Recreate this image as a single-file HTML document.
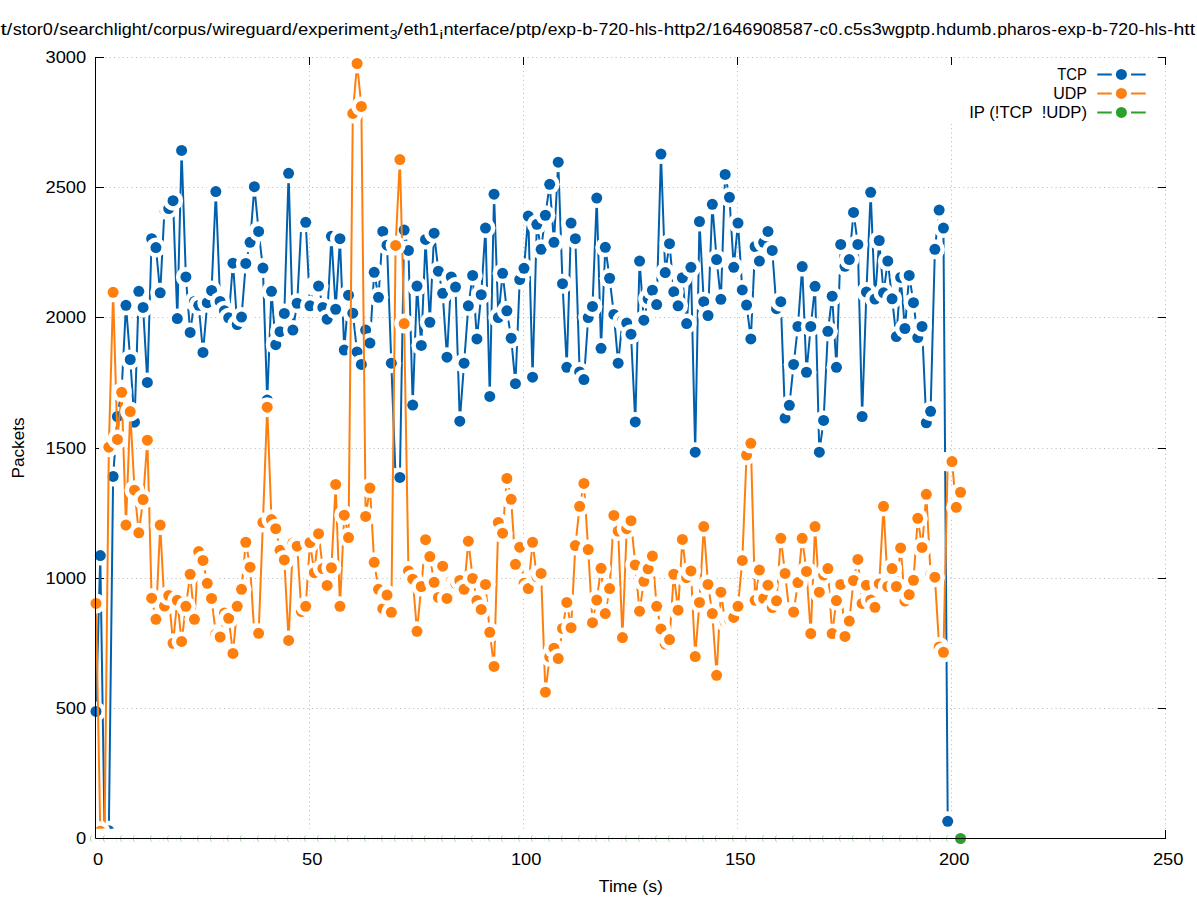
<!DOCTYPE html>
<html><head><meta charset="utf-8"><title>plot</title>
<style>html,body{margin:0;padding:0;background:#fff;overflow:hidden}svg{display:block}text{font-family:"Liberation Sans",sans-serif;fill:#000}</style>
</head><body>
<svg width="1197" height="900" viewBox="0 0 1197 900">
<rect x="0" y="0" width="1197" height="900" fill="#fff"/>
<g stroke="#b6b6b6" stroke-width="1" stroke-dasharray="1 3.4" fill="none">
<path d="M96.4 708.5H1166.0"/>
<path d="M96.4 578.5H1166.0"/>
<path d="M96.4 448.5H1166.0"/>
<path d="M96.4 317.5H1166.0"/>
<path d="M96.4 187.5H1166.0"/>
<path d="M96.4 57.5H1166.0"/>
<path d="M309.5 837.6V57.0"/>
<path d="M523.5 837.6V57.0"/>
<path d="M737.5 837.6V57.0"/>
<path d="M951.5 837.6V57.0"/>
<path d="M1165.5 837.6V57.0"/>
</g>
<rect x="949" y="65.5" width="208.5" height="58.5" fill="#fff"/>
<g stroke="#000" stroke-width="1" fill="none">
<path d="M95.0 838.5h9"/>
<path d="M1166.0 838.5h-8"/>
<path d="M95.0 708.5h9"/>
<path d="M1166.0 708.5h-8"/>
<path d="M95.0 578.5h9"/>
<path d="M1166.0 578.5h-8"/>
<path d="M95.0 448.5h9"/>
<path d="M1166.0 448.5h-8"/>
<path d="M95.0 317.5h9"/>
<path d="M1166.0 317.5h-8"/>
<path d="M95.0 187.5h9"/>
<path d="M1166.0 187.5h-8"/>
<path d="M95.0 57.5h9"/>
<path d="M1166.0 57.5h-8"/>
<path d="M95.5 839.0v-9"/>
<path d="M95.5 57.0v8"/>
<path d="M309.5 839.0v-9"/>
<path d="M309.5 57.0v8"/>
<path d="M523.5 839.0v-9"/>
<path d="M523.5 57.0v8"/>
<path d="M737.5 839.0v-9"/>
<path d="M737.5 57.0v8"/>
<path d="M951.5 839.0v-9"/>
<path d="M951.5 57.0v8"/>
<path d="M1165.5 839.0v-9"/>
<path d="M1165.5 57.0v8"/>
</g>
<text x="1087.0" y="80.0" font-size="16" text-anchor="end" textLength="29.7" lengthAdjust="spacingAndGlyphs" style="white-space:pre">TCP</text>
<path d="M1097.3 74.4H1145.7" stroke="#0060ad" stroke-width="2.0" fill="none"/>
<circle cx="1121.4" cy="74.4" r="9.7" fill="#fff"/><circle cx="1121.4" cy="74.4" r="5.5" fill="#0060ad"/>
<g>
<polyline fill="none" stroke="#0060ad" stroke-width="2.0" stroke-linejoin="round" stroke-linecap="butt" points="96.00,711.46 100.28,555.52 104.56,830.69 108.84,830.69 113.12,476.38 117.40,416.50 121.68,389.43 125.96,305.34 130.24,359.49 134.52,422.23 138.80,291.28 143.08,307.42 147.36,382.40 151.64,238.69 155.92,247.54 160.20,292.84 164.48,209.53 168.76,208.49 173.04,200.68 177.32,318.61 181.60,150.44 185.88,276.96 190.16,332.41 194.44,301.43 198.72,305.34 203.00,352.46 207.28,302.73 211.56,290.50 215.84,191.57 220.12,301.43 224.40,310.80 228.68,317.83 232.96,263.16 237.24,324.60 241.52,317.05 245.80,263.42 250.08,242.34 254.36,186.63 258.64,231.40 262.92,268.11 267.20,400.10 271.48,291.28 275.76,344.65 280.04,331.63 284.32,313.41 288.60,173.35 292.88,330.07 297.16,303.25 301.44,222.29 305.72,222.29 310.00,305.86 314.28,286.07 318.56,286.07 322.84,307.42 327.12,319.13 331.40,236.35 335.68,309.24 339.96,238.69 344.24,350.11 348.52,295.18 352.80,313.15 357.08,351.94 361.36,364.43 365.64,330.07 369.92,343.09 374.20,272.27 378.48,297.27 382.76,231.40 387.04,245.20 391.32,363.13 395.60,477.94 399.88,477.42 404.16,230.10 408.44,250.41 412.72,405.05 417.00,286.07 421.28,345.43 425.56,239.47 429.84,322.26 434.12,233.23 438.40,271.23 442.68,293.36 446.96,357.14 451.24,276.96 455.52,287.11 459.80,421.19 464.08,363.13 468.36,305.86 472.64,275.40 476.92,338.92 481.20,294.66 485.48,228.02 489.76,396.45 494.04,194.17 498.32,317.57 502.60,273.32 506.88,310.80 511.16,338.14 515.44,383.70 519.72,279.56 524.00,268.37 528.28,216.04 532.56,377.19 536.84,224.37 541.12,249.37 545.40,215.26 549.68,184.28 553.96,242.34 558.24,162.15 562.52,283.73 566.80,367.30 571.08,223.07 575.36,238.69 579.64,371.98 583.92,379.53 588.20,317.57 592.48,306.38 596.76,198.08 601.04,348.29 605.32,247.28 609.60,278.26 613.88,314.45 618.16,363.13 622.44,320.70 626.72,323.04 631.00,334.23 635.28,421.97 639.56,261.08 643.84,320.18 648.12,298.83 652.40,290.24 656.68,304.56 660.96,154.08 665.24,272.54 669.52,243.64 673.80,291.80 678.08,305.86 682.36,277.74 686.64,323.56 690.92,267.33 695.20,452.17 699.48,221.51 703.76,301.69 708.04,315.49 712.32,204.33 716.60,259.52 720.88,299.35 725.16,174.39 729.44,197.30 733.72,267.33 738.00,223.07 742.28,289.98 746.56,305.08 750.84,338.92 755.12,246.50 759.40,261.08 763.68,242.34 767.96,231.40 772.24,250.41 776.52,308.72 780.80,301.69 785.08,418.06 789.36,405.31 793.64,364.43 797.92,326.42 802.20,266.55 806.48,372.24 810.76,326.42 815.04,286.33 819.32,452.17 823.60,420.40 827.88,331.37 832.16,296.23 836.44,367.30 840.72,244.42 845.00,266.29 849.28,259.52 853.56,212.40 857.84,244.42 862.12,416.50 866.40,292.06 870.68,192.35 874.96,299.09 879.24,240.51 883.52,292.84 887.80,261.08 892.08,298.83 896.36,336.58 900.64,277.48 904.92,328.51 909.20,275.40 913.48,302.73 917.76,337.62 922.04,326.42 926.32,422.75 930.60,411.29 934.88,249.37 939.16,210.06 943.44,228.02 947.72,821.32"/>
<circle cx="96.00" cy="711.46" r="10.0" fill="#fff"/><circle cx="96.00" cy="711.46" r="5.5" fill="#0060ad"/>
<circle cx="100.28" cy="555.52" r="10.0" fill="#fff"/><circle cx="100.28" cy="555.52" r="5.5" fill="#0060ad"/>
<circle cx="104.56" cy="830.69" r="10.0" fill="#fff"/><circle cx="104.56" cy="830.69" r="5.5" fill="#0060ad"/>
<circle cx="108.84" cy="830.69" r="10.0" fill="#fff"/><circle cx="108.84" cy="830.69" r="5.5" fill="#0060ad"/>
<circle cx="113.12" cy="476.38" r="10.0" fill="#fff"/><circle cx="113.12" cy="476.38" r="5.5" fill="#0060ad"/>
<circle cx="117.40" cy="416.50" r="10.0" fill="#fff"/><circle cx="117.40" cy="416.50" r="5.5" fill="#0060ad"/>
<circle cx="121.68" cy="389.43" r="10.0" fill="#fff"/><circle cx="121.68" cy="389.43" r="5.5" fill="#0060ad"/>
<circle cx="125.96" cy="305.34" r="10.0" fill="#fff"/><circle cx="125.96" cy="305.34" r="5.5" fill="#0060ad"/>
<circle cx="130.24" cy="359.49" r="10.0" fill="#fff"/><circle cx="130.24" cy="359.49" r="5.5" fill="#0060ad"/>
<circle cx="134.52" cy="422.23" r="10.0" fill="#fff"/><circle cx="134.52" cy="422.23" r="5.5" fill="#0060ad"/>
<circle cx="138.80" cy="291.28" r="10.0" fill="#fff"/><circle cx="138.80" cy="291.28" r="5.5" fill="#0060ad"/>
<circle cx="143.08" cy="307.42" r="10.0" fill="#fff"/><circle cx="143.08" cy="307.42" r="5.5" fill="#0060ad"/>
<circle cx="147.36" cy="382.40" r="10.0" fill="#fff"/><circle cx="147.36" cy="382.40" r="5.5" fill="#0060ad"/>
<circle cx="151.64" cy="238.69" r="10.0" fill="#fff"/><circle cx="151.64" cy="238.69" r="5.5" fill="#0060ad"/>
<circle cx="155.92" cy="247.54" r="10.0" fill="#fff"/><circle cx="155.92" cy="247.54" r="5.5" fill="#0060ad"/>
<circle cx="160.20" cy="292.84" r="10.0" fill="#fff"/><circle cx="160.20" cy="292.84" r="5.5" fill="#0060ad"/>
<circle cx="164.48" cy="209.53" r="10.0" fill="#fff"/><circle cx="164.48" cy="209.53" r="5.5" fill="#0060ad"/>
<circle cx="168.76" cy="208.49" r="10.0" fill="#fff"/><circle cx="168.76" cy="208.49" r="5.5" fill="#0060ad"/>
<circle cx="173.04" cy="200.68" r="10.0" fill="#fff"/><circle cx="173.04" cy="200.68" r="5.5" fill="#0060ad"/>
<circle cx="177.32" cy="318.61" r="10.0" fill="#fff"/><circle cx="177.32" cy="318.61" r="5.5" fill="#0060ad"/>
<circle cx="181.60" cy="150.44" r="10.0" fill="#fff"/><circle cx="181.60" cy="150.44" r="5.5" fill="#0060ad"/>
<circle cx="185.88" cy="276.96" r="10.0" fill="#fff"/><circle cx="185.88" cy="276.96" r="5.5" fill="#0060ad"/>
<circle cx="190.16" cy="332.41" r="10.0" fill="#fff"/><circle cx="190.16" cy="332.41" r="5.5" fill="#0060ad"/>
<circle cx="194.44" cy="301.43" r="10.0" fill="#fff"/><circle cx="194.44" cy="301.43" r="5.5" fill="#0060ad"/>
<circle cx="198.72" cy="305.34" r="10.0" fill="#fff"/><circle cx="198.72" cy="305.34" r="5.5" fill="#0060ad"/>
<circle cx="203.00" cy="352.46" r="10.0" fill="#fff"/><circle cx="203.00" cy="352.46" r="5.5" fill="#0060ad"/>
<circle cx="207.28" cy="302.73" r="10.0" fill="#fff"/><circle cx="207.28" cy="302.73" r="5.5" fill="#0060ad"/>
<circle cx="211.56" cy="290.50" r="10.0" fill="#fff"/><circle cx="211.56" cy="290.50" r="5.5" fill="#0060ad"/>
<circle cx="215.84" cy="191.57" r="10.0" fill="#fff"/><circle cx="215.84" cy="191.57" r="5.5" fill="#0060ad"/>
<circle cx="220.12" cy="301.43" r="10.0" fill="#fff"/><circle cx="220.12" cy="301.43" r="5.5" fill="#0060ad"/>
<circle cx="224.40" cy="310.80" r="10.0" fill="#fff"/><circle cx="224.40" cy="310.80" r="5.5" fill="#0060ad"/>
<circle cx="228.68" cy="317.83" r="10.0" fill="#fff"/><circle cx="228.68" cy="317.83" r="5.5" fill="#0060ad"/>
<circle cx="232.96" cy="263.16" r="10.0" fill="#fff"/><circle cx="232.96" cy="263.16" r="5.5" fill="#0060ad"/>
<circle cx="237.24" cy="324.60" r="10.0" fill="#fff"/><circle cx="237.24" cy="324.60" r="5.5" fill="#0060ad"/>
<circle cx="241.52" cy="317.05" r="10.0" fill="#fff"/><circle cx="241.52" cy="317.05" r="5.5" fill="#0060ad"/>
<circle cx="245.80" cy="263.42" r="10.0" fill="#fff"/><circle cx="245.80" cy="263.42" r="5.5" fill="#0060ad"/>
<circle cx="250.08" cy="242.34" r="10.0" fill="#fff"/><circle cx="250.08" cy="242.34" r="5.5" fill="#0060ad"/>
<circle cx="254.36" cy="186.63" r="10.0" fill="#fff"/><circle cx="254.36" cy="186.63" r="5.5" fill="#0060ad"/>
<circle cx="258.64" cy="231.40" r="10.0" fill="#fff"/><circle cx="258.64" cy="231.40" r="5.5" fill="#0060ad"/>
<circle cx="262.92" cy="268.11" r="10.0" fill="#fff"/><circle cx="262.92" cy="268.11" r="5.5" fill="#0060ad"/>
<circle cx="267.20" cy="400.10" r="10.0" fill="#fff"/><circle cx="267.20" cy="400.10" r="5.5" fill="#0060ad"/>
<circle cx="271.48" cy="291.28" r="10.0" fill="#fff"/><circle cx="271.48" cy="291.28" r="5.5" fill="#0060ad"/>
<circle cx="275.76" cy="344.65" r="10.0" fill="#fff"/><circle cx="275.76" cy="344.65" r="5.5" fill="#0060ad"/>
<circle cx="280.04" cy="331.63" r="10.0" fill="#fff"/><circle cx="280.04" cy="331.63" r="5.5" fill="#0060ad"/>
<circle cx="284.32" cy="313.41" r="10.0" fill="#fff"/><circle cx="284.32" cy="313.41" r="5.5" fill="#0060ad"/>
<circle cx="288.60" cy="173.35" r="10.0" fill="#fff"/><circle cx="288.60" cy="173.35" r="5.5" fill="#0060ad"/>
<circle cx="292.88" cy="330.07" r="10.0" fill="#fff"/><circle cx="292.88" cy="330.07" r="5.5" fill="#0060ad"/>
<circle cx="297.16" cy="303.25" r="10.0" fill="#fff"/><circle cx="297.16" cy="303.25" r="5.5" fill="#0060ad"/>
<circle cx="301.44" cy="222.29" r="10.0" fill="#fff"/><circle cx="301.44" cy="222.29" r="5.5" fill="#0060ad"/>
<circle cx="305.72" cy="222.29" r="10.0" fill="#fff"/><circle cx="305.72" cy="222.29" r="5.5" fill="#0060ad"/>
<circle cx="310.00" cy="305.86" r="10.0" fill="#fff"/><circle cx="310.00" cy="305.86" r="5.5" fill="#0060ad"/>
<circle cx="314.28" cy="286.07" r="10.0" fill="#fff"/><circle cx="314.28" cy="286.07" r="5.5" fill="#0060ad"/>
<circle cx="318.56" cy="286.07" r="10.0" fill="#fff"/><circle cx="318.56" cy="286.07" r="5.5" fill="#0060ad"/>
<circle cx="322.84" cy="307.42" r="10.0" fill="#fff"/><circle cx="322.84" cy="307.42" r="5.5" fill="#0060ad"/>
<circle cx="327.12" cy="319.13" r="10.0" fill="#fff"/><circle cx="327.12" cy="319.13" r="5.5" fill="#0060ad"/>
<circle cx="331.40" cy="236.35" r="10.0" fill="#fff"/><circle cx="331.40" cy="236.35" r="5.5" fill="#0060ad"/>
<circle cx="335.68" cy="309.24" r="10.0" fill="#fff"/><circle cx="335.68" cy="309.24" r="5.5" fill="#0060ad"/>
<circle cx="339.96" cy="238.69" r="10.0" fill="#fff"/><circle cx="339.96" cy="238.69" r="5.5" fill="#0060ad"/>
<circle cx="344.24" cy="350.11" r="10.0" fill="#fff"/><circle cx="344.24" cy="350.11" r="5.5" fill="#0060ad"/>
<circle cx="348.52" cy="295.18" r="10.0" fill="#fff"/><circle cx="348.52" cy="295.18" r="5.5" fill="#0060ad"/>
<circle cx="352.80" cy="313.15" r="10.0" fill="#fff"/><circle cx="352.80" cy="313.15" r="5.5" fill="#0060ad"/>
<circle cx="357.08" cy="351.94" r="10.0" fill="#fff"/><circle cx="357.08" cy="351.94" r="5.5" fill="#0060ad"/>
<circle cx="361.36" cy="364.43" r="10.0" fill="#fff"/><circle cx="361.36" cy="364.43" r="5.5" fill="#0060ad"/>
<circle cx="365.64" cy="330.07" r="10.0" fill="#fff"/><circle cx="365.64" cy="330.07" r="5.5" fill="#0060ad"/>
<circle cx="369.92" cy="343.09" r="10.0" fill="#fff"/><circle cx="369.92" cy="343.09" r="5.5" fill="#0060ad"/>
<circle cx="374.20" cy="272.27" r="10.0" fill="#fff"/><circle cx="374.20" cy="272.27" r="5.5" fill="#0060ad"/>
<circle cx="378.48" cy="297.27" r="10.0" fill="#fff"/><circle cx="378.48" cy="297.27" r="5.5" fill="#0060ad"/>
<circle cx="382.76" cy="231.40" r="10.0" fill="#fff"/><circle cx="382.76" cy="231.40" r="5.5" fill="#0060ad"/>
<circle cx="387.04" cy="245.20" r="10.0" fill="#fff"/><circle cx="387.04" cy="245.20" r="5.5" fill="#0060ad"/>
<circle cx="391.32" cy="363.13" r="10.0" fill="#fff"/><circle cx="391.32" cy="363.13" r="5.5" fill="#0060ad"/>
<circle cx="395.60" cy="477.94" r="10.0" fill="#fff"/><circle cx="395.60" cy="477.94" r="5.5" fill="#0060ad"/>
<circle cx="399.88" cy="477.42" r="10.0" fill="#fff"/><circle cx="399.88" cy="477.42" r="5.5" fill="#0060ad"/>
<circle cx="404.16" cy="230.10" r="10.0" fill="#fff"/><circle cx="404.16" cy="230.10" r="5.5" fill="#0060ad"/>
<circle cx="408.44" cy="250.41" r="10.0" fill="#fff"/><circle cx="408.44" cy="250.41" r="5.5" fill="#0060ad"/>
<circle cx="412.72" cy="405.05" r="10.0" fill="#fff"/><circle cx="412.72" cy="405.05" r="5.5" fill="#0060ad"/>
<circle cx="417.00" cy="286.07" r="10.0" fill="#fff"/><circle cx="417.00" cy="286.07" r="5.5" fill="#0060ad"/>
<circle cx="421.28" cy="345.43" r="10.0" fill="#fff"/><circle cx="421.28" cy="345.43" r="5.5" fill="#0060ad"/>
<circle cx="425.56" cy="239.47" r="10.0" fill="#fff"/><circle cx="425.56" cy="239.47" r="5.5" fill="#0060ad"/>
<circle cx="429.84" cy="322.26" r="10.0" fill="#fff"/><circle cx="429.84" cy="322.26" r="5.5" fill="#0060ad"/>
<circle cx="434.12" cy="233.23" r="10.0" fill="#fff"/><circle cx="434.12" cy="233.23" r="5.5" fill="#0060ad"/>
<circle cx="438.40" cy="271.23" r="10.0" fill="#fff"/><circle cx="438.40" cy="271.23" r="5.5" fill="#0060ad"/>
<circle cx="442.68" cy="293.36" r="10.0" fill="#fff"/><circle cx="442.68" cy="293.36" r="5.5" fill="#0060ad"/>
<circle cx="446.96" cy="357.14" r="10.0" fill="#fff"/><circle cx="446.96" cy="357.14" r="5.5" fill="#0060ad"/>
<circle cx="451.24" cy="276.96" r="10.0" fill="#fff"/><circle cx="451.24" cy="276.96" r="5.5" fill="#0060ad"/>
<circle cx="455.52" cy="287.11" r="10.0" fill="#fff"/><circle cx="455.52" cy="287.11" r="5.5" fill="#0060ad"/>
<circle cx="459.80" cy="421.19" r="10.0" fill="#fff"/><circle cx="459.80" cy="421.19" r="5.5" fill="#0060ad"/>
<circle cx="464.08" cy="363.13" r="10.0" fill="#fff"/><circle cx="464.08" cy="363.13" r="5.5" fill="#0060ad"/>
<circle cx="468.36" cy="305.86" r="10.0" fill="#fff"/><circle cx="468.36" cy="305.86" r="5.5" fill="#0060ad"/>
<circle cx="472.64" cy="275.40" r="10.0" fill="#fff"/><circle cx="472.64" cy="275.40" r="5.5" fill="#0060ad"/>
<circle cx="476.92" cy="338.92" r="10.0" fill="#fff"/><circle cx="476.92" cy="338.92" r="5.5" fill="#0060ad"/>
<circle cx="481.20" cy="294.66" r="10.0" fill="#fff"/><circle cx="481.20" cy="294.66" r="5.5" fill="#0060ad"/>
<circle cx="485.48" cy="228.02" r="10.0" fill="#fff"/><circle cx="485.48" cy="228.02" r="5.5" fill="#0060ad"/>
<circle cx="489.76" cy="396.45" r="10.0" fill="#fff"/><circle cx="489.76" cy="396.45" r="5.5" fill="#0060ad"/>
<circle cx="494.04" cy="194.17" r="10.0" fill="#fff"/><circle cx="494.04" cy="194.17" r="5.5" fill="#0060ad"/>
<circle cx="498.32" cy="317.57" r="10.0" fill="#fff"/><circle cx="498.32" cy="317.57" r="5.5" fill="#0060ad"/>
<circle cx="502.60" cy="273.32" r="10.0" fill="#fff"/><circle cx="502.60" cy="273.32" r="5.5" fill="#0060ad"/>
<circle cx="506.88" cy="310.80" r="10.0" fill="#fff"/><circle cx="506.88" cy="310.80" r="5.5" fill="#0060ad"/>
<circle cx="511.16" cy="338.14" r="10.0" fill="#fff"/><circle cx="511.16" cy="338.14" r="5.5" fill="#0060ad"/>
<circle cx="515.44" cy="383.70" r="10.0" fill="#fff"/><circle cx="515.44" cy="383.70" r="5.5" fill="#0060ad"/>
<circle cx="519.72" cy="279.56" r="10.0" fill="#fff"/><circle cx="519.72" cy="279.56" r="5.5" fill="#0060ad"/>
<circle cx="524.00" cy="268.37" r="10.0" fill="#fff"/><circle cx="524.00" cy="268.37" r="5.5" fill="#0060ad"/>
<circle cx="528.28" cy="216.04" r="10.0" fill="#fff"/><circle cx="528.28" cy="216.04" r="5.5" fill="#0060ad"/>
<circle cx="532.56" cy="377.19" r="10.0" fill="#fff"/><circle cx="532.56" cy="377.19" r="5.5" fill="#0060ad"/>
<circle cx="536.84" cy="224.37" r="10.0" fill="#fff"/><circle cx="536.84" cy="224.37" r="5.5" fill="#0060ad"/>
<circle cx="541.12" cy="249.37" r="10.0" fill="#fff"/><circle cx="541.12" cy="249.37" r="5.5" fill="#0060ad"/>
<circle cx="545.40" cy="215.26" r="10.0" fill="#fff"/><circle cx="545.40" cy="215.26" r="5.5" fill="#0060ad"/>
<circle cx="549.68" cy="184.28" r="10.0" fill="#fff"/><circle cx="549.68" cy="184.28" r="5.5" fill="#0060ad"/>
<circle cx="553.96" cy="242.34" r="10.0" fill="#fff"/><circle cx="553.96" cy="242.34" r="5.5" fill="#0060ad"/>
<circle cx="558.24" cy="162.15" r="10.0" fill="#fff"/><circle cx="558.24" cy="162.15" r="5.5" fill="#0060ad"/>
<circle cx="562.52" cy="283.73" r="10.0" fill="#fff"/><circle cx="562.52" cy="283.73" r="5.5" fill="#0060ad"/>
<circle cx="566.80" cy="367.30" r="10.0" fill="#fff"/><circle cx="566.80" cy="367.30" r="5.5" fill="#0060ad"/>
<circle cx="571.08" cy="223.07" r="10.0" fill="#fff"/><circle cx="571.08" cy="223.07" r="5.5" fill="#0060ad"/>
<circle cx="575.36" cy="238.69" r="10.0" fill="#fff"/><circle cx="575.36" cy="238.69" r="5.5" fill="#0060ad"/>
<circle cx="579.64" cy="371.98" r="10.0" fill="#fff"/><circle cx="579.64" cy="371.98" r="5.5" fill="#0060ad"/>
<circle cx="583.92" cy="379.53" r="10.0" fill="#fff"/><circle cx="583.92" cy="379.53" r="5.5" fill="#0060ad"/>
<circle cx="588.20" cy="317.57" r="10.0" fill="#fff"/><circle cx="588.20" cy="317.57" r="5.5" fill="#0060ad"/>
<circle cx="592.48" cy="306.38" r="10.0" fill="#fff"/><circle cx="592.48" cy="306.38" r="5.5" fill="#0060ad"/>
<circle cx="596.76" cy="198.08" r="10.0" fill="#fff"/><circle cx="596.76" cy="198.08" r="5.5" fill="#0060ad"/>
<circle cx="601.04" cy="348.29" r="10.0" fill="#fff"/><circle cx="601.04" cy="348.29" r="5.5" fill="#0060ad"/>
<circle cx="605.32" cy="247.28" r="10.0" fill="#fff"/><circle cx="605.32" cy="247.28" r="5.5" fill="#0060ad"/>
<circle cx="609.60" cy="278.26" r="10.0" fill="#fff"/><circle cx="609.60" cy="278.26" r="5.5" fill="#0060ad"/>
<circle cx="613.88" cy="314.45" r="10.0" fill="#fff"/><circle cx="613.88" cy="314.45" r="5.5" fill="#0060ad"/>
<circle cx="618.16" cy="363.13" r="10.0" fill="#fff"/><circle cx="618.16" cy="363.13" r="5.5" fill="#0060ad"/>
<circle cx="622.44" cy="320.70" r="10.0" fill="#fff"/><circle cx="622.44" cy="320.70" r="5.5" fill="#0060ad"/>
<circle cx="626.72" cy="323.04" r="10.0" fill="#fff"/><circle cx="626.72" cy="323.04" r="5.5" fill="#0060ad"/>
<circle cx="631.00" cy="334.23" r="10.0" fill="#fff"/><circle cx="631.00" cy="334.23" r="5.5" fill="#0060ad"/>
<circle cx="635.28" cy="421.97" r="10.0" fill="#fff"/><circle cx="635.28" cy="421.97" r="5.5" fill="#0060ad"/>
<circle cx="639.56" cy="261.08" r="10.0" fill="#fff"/><circle cx="639.56" cy="261.08" r="5.5" fill="#0060ad"/>
<circle cx="643.84" cy="320.18" r="10.0" fill="#fff"/><circle cx="643.84" cy="320.18" r="5.5" fill="#0060ad"/>
<circle cx="648.12" cy="298.83" r="10.0" fill="#fff"/><circle cx="648.12" cy="298.83" r="5.5" fill="#0060ad"/>
<circle cx="652.40" cy="290.24" r="10.0" fill="#fff"/><circle cx="652.40" cy="290.24" r="5.5" fill="#0060ad"/>
<circle cx="656.68" cy="304.56" r="10.0" fill="#fff"/><circle cx="656.68" cy="304.56" r="5.5" fill="#0060ad"/>
<circle cx="660.96" cy="154.08" r="10.0" fill="#fff"/><circle cx="660.96" cy="154.08" r="5.5" fill="#0060ad"/>
<circle cx="665.24" cy="272.54" r="10.0" fill="#fff"/><circle cx="665.24" cy="272.54" r="5.5" fill="#0060ad"/>
<circle cx="669.52" cy="243.64" r="10.0" fill="#fff"/><circle cx="669.52" cy="243.64" r="5.5" fill="#0060ad"/>
<circle cx="673.80" cy="291.80" r="10.0" fill="#fff"/><circle cx="673.80" cy="291.80" r="5.5" fill="#0060ad"/>
<circle cx="678.08" cy="305.86" r="10.0" fill="#fff"/><circle cx="678.08" cy="305.86" r="5.5" fill="#0060ad"/>
<circle cx="682.36" cy="277.74" r="10.0" fill="#fff"/><circle cx="682.36" cy="277.74" r="5.5" fill="#0060ad"/>
<circle cx="686.64" cy="323.56" r="10.0" fill="#fff"/><circle cx="686.64" cy="323.56" r="5.5" fill="#0060ad"/>
<circle cx="690.92" cy="267.33" r="10.0" fill="#fff"/><circle cx="690.92" cy="267.33" r="5.5" fill="#0060ad"/>
<circle cx="695.20" cy="452.17" r="10.0" fill="#fff"/><circle cx="695.20" cy="452.17" r="5.5" fill="#0060ad"/>
<circle cx="699.48" cy="221.51" r="10.0" fill="#fff"/><circle cx="699.48" cy="221.51" r="5.5" fill="#0060ad"/>
<circle cx="703.76" cy="301.69" r="10.0" fill="#fff"/><circle cx="703.76" cy="301.69" r="5.5" fill="#0060ad"/>
<circle cx="708.04" cy="315.49" r="10.0" fill="#fff"/><circle cx="708.04" cy="315.49" r="5.5" fill="#0060ad"/>
<circle cx="712.32" cy="204.33" r="10.0" fill="#fff"/><circle cx="712.32" cy="204.33" r="5.5" fill="#0060ad"/>
<circle cx="716.60" cy="259.52" r="10.0" fill="#fff"/><circle cx="716.60" cy="259.52" r="5.5" fill="#0060ad"/>
<circle cx="720.88" cy="299.35" r="10.0" fill="#fff"/><circle cx="720.88" cy="299.35" r="5.5" fill="#0060ad"/>
<circle cx="725.16" cy="174.39" r="10.0" fill="#fff"/><circle cx="725.16" cy="174.39" r="5.5" fill="#0060ad"/>
<circle cx="729.44" cy="197.30" r="10.0" fill="#fff"/><circle cx="729.44" cy="197.30" r="5.5" fill="#0060ad"/>
<circle cx="733.72" cy="267.33" r="10.0" fill="#fff"/><circle cx="733.72" cy="267.33" r="5.5" fill="#0060ad"/>
<circle cx="738.00" cy="223.07" r="10.0" fill="#fff"/><circle cx="738.00" cy="223.07" r="5.5" fill="#0060ad"/>
<circle cx="742.28" cy="289.98" r="10.0" fill="#fff"/><circle cx="742.28" cy="289.98" r="5.5" fill="#0060ad"/>
<circle cx="746.56" cy="305.08" r="10.0" fill="#fff"/><circle cx="746.56" cy="305.08" r="5.5" fill="#0060ad"/>
<circle cx="750.84" cy="338.92" r="10.0" fill="#fff"/><circle cx="750.84" cy="338.92" r="5.5" fill="#0060ad"/>
<circle cx="755.12" cy="246.50" r="10.0" fill="#fff"/><circle cx="755.12" cy="246.50" r="5.5" fill="#0060ad"/>
<circle cx="759.40" cy="261.08" r="10.0" fill="#fff"/><circle cx="759.40" cy="261.08" r="5.5" fill="#0060ad"/>
<circle cx="763.68" cy="242.34" r="10.0" fill="#fff"/><circle cx="763.68" cy="242.34" r="5.5" fill="#0060ad"/>
<circle cx="767.96" cy="231.40" r="10.0" fill="#fff"/><circle cx="767.96" cy="231.40" r="5.5" fill="#0060ad"/>
<circle cx="772.24" cy="250.41" r="10.0" fill="#fff"/><circle cx="772.24" cy="250.41" r="5.5" fill="#0060ad"/>
<circle cx="776.52" cy="308.72" r="10.0" fill="#fff"/><circle cx="776.52" cy="308.72" r="5.5" fill="#0060ad"/>
<circle cx="780.80" cy="301.69" r="10.0" fill="#fff"/><circle cx="780.80" cy="301.69" r="5.5" fill="#0060ad"/>
<circle cx="785.08" cy="418.06" r="10.0" fill="#fff"/><circle cx="785.08" cy="418.06" r="5.5" fill="#0060ad"/>
<circle cx="789.36" cy="405.31" r="10.0" fill="#fff"/><circle cx="789.36" cy="405.31" r="5.5" fill="#0060ad"/>
<circle cx="793.64" cy="364.43" r="10.0" fill="#fff"/><circle cx="793.64" cy="364.43" r="5.5" fill="#0060ad"/>
<circle cx="797.92" cy="326.42" r="10.0" fill="#fff"/><circle cx="797.92" cy="326.42" r="5.5" fill="#0060ad"/>
<circle cx="802.20" cy="266.55" r="10.0" fill="#fff"/><circle cx="802.20" cy="266.55" r="5.5" fill="#0060ad"/>
<circle cx="806.48" cy="372.24" r="10.0" fill="#fff"/><circle cx="806.48" cy="372.24" r="5.5" fill="#0060ad"/>
<circle cx="810.76" cy="326.42" r="10.0" fill="#fff"/><circle cx="810.76" cy="326.42" r="5.5" fill="#0060ad"/>
<circle cx="815.04" cy="286.33" r="10.0" fill="#fff"/><circle cx="815.04" cy="286.33" r="5.5" fill="#0060ad"/>
<circle cx="819.32" cy="452.17" r="10.0" fill="#fff"/><circle cx="819.32" cy="452.17" r="5.5" fill="#0060ad"/>
<circle cx="823.60" cy="420.40" r="10.0" fill="#fff"/><circle cx="823.60" cy="420.40" r="5.5" fill="#0060ad"/>
<circle cx="827.88" cy="331.37" r="10.0" fill="#fff"/><circle cx="827.88" cy="331.37" r="5.5" fill="#0060ad"/>
<circle cx="832.16" cy="296.23" r="10.0" fill="#fff"/><circle cx="832.16" cy="296.23" r="5.5" fill="#0060ad"/>
<circle cx="836.44" cy="367.30" r="10.0" fill="#fff"/><circle cx="836.44" cy="367.30" r="5.5" fill="#0060ad"/>
<circle cx="840.72" cy="244.42" r="10.0" fill="#fff"/><circle cx="840.72" cy="244.42" r="5.5" fill="#0060ad"/>
<circle cx="845.00" cy="266.29" r="10.0" fill="#fff"/><circle cx="845.00" cy="266.29" r="5.5" fill="#0060ad"/>
<circle cx="849.28" cy="259.52" r="10.0" fill="#fff"/><circle cx="849.28" cy="259.52" r="5.5" fill="#0060ad"/>
<circle cx="853.56" cy="212.40" r="10.0" fill="#fff"/><circle cx="853.56" cy="212.40" r="5.5" fill="#0060ad"/>
<circle cx="857.84" cy="244.42" r="10.0" fill="#fff"/><circle cx="857.84" cy="244.42" r="5.5" fill="#0060ad"/>
<circle cx="862.12" cy="416.50" r="10.0" fill="#fff"/><circle cx="862.12" cy="416.50" r="5.5" fill="#0060ad"/>
<circle cx="866.40" cy="292.06" r="10.0" fill="#fff"/><circle cx="866.40" cy="292.06" r="5.5" fill="#0060ad"/>
<circle cx="870.68" cy="192.35" r="10.0" fill="#fff"/><circle cx="870.68" cy="192.35" r="5.5" fill="#0060ad"/>
<circle cx="874.96" cy="299.09" r="10.0" fill="#fff"/><circle cx="874.96" cy="299.09" r="5.5" fill="#0060ad"/>
<circle cx="879.24" cy="240.51" r="10.0" fill="#fff"/><circle cx="879.24" cy="240.51" r="5.5" fill="#0060ad"/>
<circle cx="883.52" cy="292.84" r="10.0" fill="#fff"/><circle cx="883.52" cy="292.84" r="5.5" fill="#0060ad"/>
<circle cx="887.80" cy="261.08" r="10.0" fill="#fff"/><circle cx="887.80" cy="261.08" r="5.5" fill="#0060ad"/>
<circle cx="892.08" cy="298.83" r="10.0" fill="#fff"/><circle cx="892.08" cy="298.83" r="5.5" fill="#0060ad"/>
<circle cx="896.36" cy="336.58" r="10.0" fill="#fff"/><circle cx="896.36" cy="336.58" r="5.5" fill="#0060ad"/>
<circle cx="900.64" cy="277.48" r="10.0" fill="#fff"/><circle cx="900.64" cy="277.48" r="5.5" fill="#0060ad"/>
<circle cx="904.92" cy="328.51" r="10.0" fill="#fff"/><circle cx="904.92" cy="328.51" r="5.5" fill="#0060ad"/>
<circle cx="909.20" cy="275.40" r="10.0" fill="#fff"/><circle cx="909.20" cy="275.40" r="5.5" fill="#0060ad"/>
<circle cx="913.48" cy="302.73" r="10.0" fill="#fff"/><circle cx="913.48" cy="302.73" r="5.5" fill="#0060ad"/>
<circle cx="917.76" cy="337.62" r="10.0" fill="#fff"/><circle cx="917.76" cy="337.62" r="5.5" fill="#0060ad"/>
<circle cx="922.04" cy="326.42" r="10.0" fill="#fff"/><circle cx="922.04" cy="326.42" r="5.5" fill="#0060ad"/>
<circle cx="926.32" cy="422.75" r="10.0" fill="#fff"/><circle cx="926.32" cy="422.75" r="5.5" fill="#0060ad"/>
<circle cx="930.60" cy="411.29" r="10.0" fill="#fff"/><circle cx="930.60" cy="411.29" r="5.5" fill="#0060ad"/>
<circle cx="934.88" cy="249.37" r="10.0" fill="#fff"/><circle cx="934.88" cy="249.37" r="5.5" fill="#0060ad"/>
<circle cx="939.16" cy="210.06" r="10.0" fill="#fff"/><circle cx="939.16" cy="210.06" r="5.5" fill="#0060ad"/>
<circle cx="943.44" cy="228.02" r="10.0" fill="#fff"/><circle cx="943.44" cy="228.02" r="5.5" fill="#0060ad"/>
<circle cx="947.72" cy="821.32" r="10.0" fill="#fff"/><circle cx="947.72" cy="821.32" r="5.5" fill="#0060ad"/>
</g>
<text x="1087.0" y="99.0" font-size="16" text-anchor="end" textLength="33.7" lengthAdjust="spacingAndGlyphs" style="white-space:pre">UDP</text>
<path d="M1097.3 93.4H1145.7" stroke="#ff7f0e" stroke-width="2.0" fill="none"/>
<circle cx="1121.4" cy="93.4" r="9.7" fill="#fff"/><circle cx="1121.4" cy="93.4" r="5.5" fill="#ff7f0e"/>
<g>
<polyline fill="none" stroke="#ff7f0e" stroke-width="2.0" stroke-linejoin="round" stroke-linecap="butt" points="96.00,603.42 100.28,831.21 104.56,838.50 108.84,447.22 113.12,292.32 117.40,439.41 121.68,392.29 125.96,525.06 130.24,411.55 134.52,490.17 138.80,532.87 143.08,499.55 147.36,440.19 151.64,598.21 155.92,619.30 160.20,525.06 164.48,606.02 168.76,595.61 173.04,643.25 177.32,600.29 181.60,641.43 185.88,606.28 190.16,574.26 194.44,619.30 198.72,551.61 203.00,560.46 207.28,583.37 211.56,598.47 215.84,634.14 220.12,637.00 224.40,613.05 228.68,618.26 232.96,653.40 237.24,606.28 241.52,589.36 245.80,542.24 250.08,567.23 254.36,633.36 258.64,633.36 262.92,522.46 267.20,407.13 271.48,519.59 275.76,528.70 280.04,550.31 284.32,559.94 288.60,640.39 292.88,543.02 297.16,546.15 301.44,611.49 305.72,606.28 310.00,542.50 314.28,572.70 318.56,533.65 322.84,568.53 327.12,585.46 331.40,567.75 335.68,484.45 339.96,606.28 344.24,515.17 348.52,537.55 352.80,113.47 357.08,63.49 361.36,106.44 365.64,516.47 369.92,488.09 374.20,562.29 378.48,589.36 382.76,608.63 387.04,595.09 391.32,612.27 395.60,245.46 399.88,159.55 404.16,323.56 408.44,570.88 412.72,579.21 417.00,631.27 421.28,586.50 425.56,539.64 429.84,556.56 434.12,582.33 438.40,597.43 442.68,566.19 446.96,598.47 451.24,581.03 455.52,583.37 459.80,580.51 464.08,589.36 468.36,541.20 472.64,578.43 476.92,600.56 481.20,609.41 485.48,584.41 489.76,632.32 494.04,666.42 498.32,522.46 502.60,533.13 506.88,478.46 511.16,499.29 515.44,564.37 519.72,547.19 524.00,583.37 528.28,588.58 532.56,542.24 536.84,576.87 541.12,573.48 545.40,692.19 549.68,656.79 553.96,648.20 558.24,658.61 562.52,628.41 566.80,602.38 571.08,627.63 575.36,545.62 579.64,506.31 583.92,483.41 588.20,549.53 592.48,622.68 596.76,600.03 601.04,568.27 605.32,613.57 609.60,588.58 613.88,515.43 618.16,531.05 622.44,637.52 626.72,528.70 631.00,520.63 635.28,564.89 639.56,611.23 643.84,581.29 648.12,568.79 652.40,556.04 656.68,606.28 660.96,628.93 665.24,644.03 669.52,639.61 673.80,574.26 678.08,610.19 682.36,539.38 686.64,577.65 690.92,570.88 695.20,656.53 699.48,602.38 703.76,526.62 708.04,584.41 712.32,613.57 716.60,675.27 720.88,592.22 725.16,621.90 729.44,619.56 733.72,617.48 738.00,606.28 742.28,560.46 746.56,455.03 750.84,443.31 755.12,600.29 759.40,570.10 763.68,598.47 767.96,585.20 772.24,607.58 776.52,600.82 780.80,538.34 785.08,573.48 789.36,612.01 793.64,612.01 797.92,582.59 802.20,538.34 806.48,571.40 810.76,633.62 815.04,526.62 819.32,592.22 823.60,575.04 827.88,568.53 832.16,633.62 836.44,600.56 840.72,584.41 845.00,636.48 849.28,621.12 853.56,580.51 857.84,559.42 862.12,603.42 866.40,585.20 870.68,600.03 874.96,607.32 879.24,583.63 883.52,506.31 887.80,586.50 892.08,568.53 896.36,586.50 900.64,547.97 904.92,601.08 909.20,594.57 913.48,580.25 917.76,518.29 922.04,547.45 926.32,494.34 930.60,575.04 934.88,577.13 939.16,646.89 943.44,652.36 947.72,461.54 952.00,461.54 956.28,507.36 960.56,492.26"/>
<circle cx="96.00" cy="603.42" r="10.0" fill="#fff"/><circle cx="96.00" cy="603.42" r="5.5" fill="#ff7f0e"/>
<circle cx="100.28" cy="831.21" r="10.0" fill="#fff"/><circle cx="100.28" cy="831.21" r="5.5" fill="#ff7f0e"/>
<circle cx="104.56" cy="838.50" r="10.0" fill="#fff"/><circle cx="104.56" cy="838.50" r="5.5" fill="#ff7f0e"/>
<circle cx="108.84" cy="447.22" r="10.0" fill="#fff"/><circle cx="108.84" cy="447.22" r="5.5" fill="#ff7f0e"/>
<circle cx="113.12" cy="292.32" r="10.0" fill="#fff"/><circle cx="113.12" cy="292.32" r="5.5" fill="#ff7f0e"/>
<circle cx="117.40" cy="439.41" r="10.0" fill="#fff"/><circle cx="117.40" cy="439.41" r="5.5" fill="#ff7f0e"/>
<circle cx="121.68" cy="392.29" r="10.0" fill="#fff"/><circle cx="121.68" cy="392.29" r="5.5" fill="#ff7f0e"/>
<circle cx="125.96" cy="525.06" r="10.0" fill="#fff"/><circle cx="125.96" cy="525.06" r="5.5" fill="#ff7f0e"/>
<circle cx="130.24" cy="411.55" r="10.0" fill="#fff"/><circle cx="130.24" cy="411.55" r="5.5" fill="#ff7f0e"/>
<circle cx="134.52" cy="490.17" r="10.0" fill="#fff"/><circle cx="134.52" cy="490.17" r="5.5" fill="#ff7f0e"/>
<circle cx="138.80" cy="532.87" r="10.0" fill="#fff"/><circle cx="138.80" cy="532.87" r="5.5" fill="#ff7f0e"/>
<circle cx="143.08" cy="499.55" r="10.0" fill="#fff"/><circle cx="143.08" cy="499.55" r="5.5" fill="#ff7f0e"/>
<circle cx="147.36" cy="440.19" r="10.0" fill="#fff"/><circle cx="147.36" cy="440.19" r="5.5" fill="#ff7f0e"/>
<circle cx="151.64" cy="598.21" r="10.0" fill="#fff"/><circle cx="151.64" cy="598.21" r="5.5" fill="#ff7f0e"/>
<circle cx="155.92" cy="619.30" r="10.0" fill="#fff"/><circle cx="155.92" cy="619.30" r="5.5" fill="#ff7f0e"/>
<circle cx="160.20" cy="525.06" r="10.0" fill="#fff"/><circle cx="160.20" cy="525.06" r="5.5" fill="#ff7f0e"/>
<circle cx="164.48" cy="606.02" r="10.0" fill="#fff"/><circle cx="164.48" cy="606.02" r="5.5" fill="#ff7f0e"/>
<circle cx="168.76" cy="595.61" r="10.0" fill="#fff"/><circle cx="168.76" cy="595.61" r="5.5" fill="#ff7f0e"/>
<circle cx="173.04" cy="643.25" r="10.0" fill="#fff"/><circle cx="173.04" cy="643.25" r="5.5" fill="#ff7f0e"/>
<circle cx="177.32" cy="600.29" r="10.0" fill="#fff"/><circle cx="177.32" cy="600.29" r="5.5" fill="#ff7f0e"/>
<circle cx="181.60" cy="641.43" r="10.0" fill="#fff"/><circle cx="181.60" cy="641.43" r="5.5" fill="#ff7f0e"/>
<circle cx="185.88" cy="606.28" r="10.0" fill="#fff"/><circle cx="185.88" cy="606.28" r="5.5" fill="#ff7f0e"/>
<circle cx="190.16" cy="574.26" r="10.0" fill="#fff"/><circle cx="190.16" cy="574.26" r="5.5" fill="#ff7f0e"/>
<circle cx="194.44" cy="619.30" r="10.0" fill="#fff"/><circle cx="194.44" cy="619.30" r="5.5" fill="#ff7f0e"/>
<circle cx="198.72" cy="551.61" r="10.0" fill="#fff"/><circle cx="198.72" cy="551.61" r="5.5" fill="#ff7f0e"/>
<circle cx="203.00" cy="560.46" r="10.0" fill="#fff"/><circle cx="203.00" cy="560.46" r="5.5" fill="#ff7f0e"/>
<circle cx="207.28" cy="583.37" r="10.0" fill="#fff"/><circle cx="207.28" cy="583.37" r="5.5" fill="#ff7f0e"/>
<circle cx="211.56" cy="598.47" r="10.0" fill="#fff"/><circle cx="211.56" cy="598.47" r="5.5" fill="#ff7f0e"/>
<circle cx="215.84" cy="634.14" r="10.0" fill="#fff"/><circle cx="215.84" cy="634.14" r="5.5" fill="#ff7f0e"/>
<circle cx="220.12" cy="637.00" r="10.0" fill="#fff"/><circle cx="220.12" cy="637.00" r="5.5" fill="#ff7f0e"/>
<circle cx="224.40" cy="613.05" r="10.0" fill="#fff"/><circle cx="224.40" cy="613.05" r="5.5" fill="#ff7f0e"/>
<circle cx="228.68" cy="618.26" r="10.0" fill="#fff"/><circle cx="228.68" cy="618.26" r="5.5" fill="#ff7f0e"/>
<circle cx="232.96" cy="653.40" r="10.0" fill="#fff"/><circle cx="232.96" cy="653.40" r="5.5" fill="#ff7f0e"/>
<circle cx="237.24" cy="606.28" r="10.0" fill="#fff"/><circle cx="237.24" cy="606.28" r="5.5" fill="#ff7f0e"/>
<circle cx="241.52" cy="589.36" r="10.0" fill="#fff"/><circle cx="241.52" cy="589.36" r="5.5" fill="#ff7f0e"/>
<circle cx="245.80" cy="542.24" r="10.0" fill="#fff"/><circle cx="245.80" cy="542.24" r="5.5" fill="#ff7f0e"/>
<circle cx="250.08" cy="567.23" r="10.0" fill="#fff"/><circle cx="250.08" cy="567.23" r="5.5" fill="#ff7f0e"/>
<circle cx="254.36" cy="633.36" r="10.0" fill="#fff"/><circle cx="254.36" cy="633.36" r="5.5" fill="#ff7f0e"/>
<circle cx="258.64" cy="633.36" r="10.0" fill="#fff"/><circle cx="258.64" cy="633.36" r="5.5" fill="#ff7f0e"/>
<circle cx="262.92" cy="522.46" r="10.0" fill="#fff"/><circle cx="262.92" cy="522.46" r="5.5" fill="#ff7f0e"/>
<circle cx="267.20" cy="407.13" r="10.0" fill="#fff"/><circle cx="267.20" cy="407.13" r="5.5" fill="#ff7f0e"/>
<circle cx="271.48" cy="519.59" r="10.0" fill="#fff"/><circle cx="271.48" cy="519.59" r="5.5" fill="#ff7f0e"/>
<circle cx="275.76" cy="528.70" r="10.0" fill="#fff"/><circle cx="275.76" cy="528.70" r="5.5" fill="#ff7f0e"/>
<circle cx="280.04" cy="550.31" r="10.0" fill="#fff"/><circle cx="280.04" cy="550.31" r="5.5" fill="#ff7f0e"/>
<circle cx="284.32" cy="559.94" r="10.0" fill="#fff"/><circle cx="284.32" cy="559.94" r="5.5" fill="#ff7f0e"/>
<circle cx="288.60" cy="640.39" r="10.0" fill="#fff"/><circle cx="288.60" cy="640.39" r="5.5" fill="#ff7f0e"/>
<circle cx="292.88" cy="543.02" r="10.0" fill="#fff"/><circle cx="292.88" cy="543.02" r="5.5" fill="#ff7f0e"/>
<circle cx="297.16" cy="546.15" r="10.0" fill="#fff"/><circle cx="297.16" cy="546.15" r="5.5" fill="#ff7f0e"/>
<circle cx="301.44" cy="611.49" r="10.0" fill="#fff"/><circle cx="301.44" cy="611.49" r="5.5" fill="#ff7f0e"/>
<circle cx="305.72" cy="606.28" r="10.0" fill="#fff"/><circle cx="305.72" cy="606.28" r="5.5" fill="#ff7f0e"/>
<circle cx="310.00" cy="542.50" r="10.0" fill="#fff"/><circle cx="310.00" cy="542.50" r="5.5" fill="#ff7f0e"/>
<circle cx="314.28" cy="572.70" r="10.0" fill="#fff"/><circle cx="314.28" cy="572.70" r="5.5" fill="#ff7f0e"/>
<circle cx="318.56" cy="533.65" r="10.0" fill="#fff"/><circle cx="318.56" cy="533.65" r="5.5" fill="#ff7f0e"/>
<circle cx="322.84" cy="568.53" r="10.0" fill="#fff"/><circle cx="322.84" cy="568.53" r="5.5" fill="#ff7f0e"/>
<circle cx="327.12" cy="585.46" r="10.0" fill="#fff"/><circle cx="327.12" cy="585.46" r="5.5" fill="#ff7f0e"/>
<circle cx="331.40" cy="567.75" r="10.0" fill="#fff"/><circle cx="331.40" cy="567.75" r="5.5" fill="#ff7f0e"/>
<circle cx="335.68" cy="484.45" r="10.0" fill="#fff"/><circle cx="335.68" cy="484.45" r="5.5" fill="#ff7f0e"/>
<circle cx="339.96" cy="606.28" r="10.0" fill="#fff"/><circle cx="339.96" cy="606.28" r="5.5" fill="#ff7f0e"/>
<circle cx="344.24" cy="515.17" r="10.0" fill="#fff"/><circle cx="344.24" cy="515.17" r="5.5" fill="#ff7f0e"/>
<circle cx="348.52" cy="537.55" r="10.0" fill="#fff"/><circle cx="348.52" cy="537.55" r="5.5" fill="#ff7f0e"/>
<circle cx="352.80" cy="113.47" r="10.0" fill="#fff"/><circle cx="352.80" cy="113.47" r="5.5" fill="#ff7f0e"/>
<circle cx="357.08" cy="63.49" r="10.0" fill="#fff"/><circle cx="357.08" cy="63.49" r="5.5" fill="#ff7f0e"/>
<circle cx="361.36" cy="106.44" r="10.0" fill="#fff"/><circle cx="361.36" cy="106.44" r="5.5" fill="#ff7f0e"/>
<circle cx="365.64" cy="516.47" r="10.0" fill="#fff"/><circle cx="365.64" cy="516.47" r="5.5" fill="#ff7f0e"/>
<circle cx="369.92" cy="488.09" r="10.0" fill="#fff"/><circle cx="369.92" cy="488.09" r="5.5" fill="#ff7f0e"/>
<circle cx="374.20" cy="562.29" r="10.0" fill="#fff"/><circle cx="374.20" cy="562.29" r="5.5" fill="#ff7f0e"/>
<circle cx="378.48" cy="589.36" r="10.0" fill="#fff"/><circle cx="378.48" cy="589.36" r="5.5" fill="#ff7f0e"/>
<circle cx="382.76" cy="608.63" r="10.0" fill="#fff"/><circle cx="382.76" cy="608.63" r="5.5" fill="#ff7f0e"/>
<circle cx="387.04" cy="595.09" r="10.0" fill="#fff"/><circle cx="387.04" cy="595.09" r="5.5" fill="#ff7f0e"/>
<circle cx="391.32" cy="612.27" r="10.0" fill="#fff"/><circle cx="391.32" cy="612.27" r="5.5" fill="#ff7f0e"/>
<circle cx="395.60" cy="245.46" r="10.0" fill="#fff"/><circle cx="395.60" cy="245.46" r="5.5" fill="#ff7f0e"/>
<circle cx="399.88" cy="159.55" r="10.0" fill="#fff"/><circle cx="399.88" cy="159.55" r="5.5" fill="#ff7f0e"/>
<circle cx="404.16" cy="323.56" r="10.0" fill="#fff"/><circle cx="404.16" cy="323.56" r="5.5" fill="#ff7f0e"/>
<circle cx="408.44" cy="570.88" r="10.0" fill="#fff"/><circle cx="408.44" cy="570.88" r="5.5" fill="#ff7f0e"/>
<circle cx="412.72" cy="579.21" r="10.0" fill="#fff"/><circle cx="412.72" cy="579.21" r="5.5" fill="#ff7f0e"/>
<circle cx="417.00" cy="631.27" r="10.0" fill="#fff"/><circle cx="417.00" cy="631.27" r="5.5" fill="#ff7f0e"/>
<circle cx="421.28" cy="586.50" r="10.0" fill="#fff"/><circle cx="421.28" cy="586.50" r="5.5" fill="#ff7f0e"/>
<circle cx="425.56" cy="539.64" r="10.0" fill="#fff"/><circle cx="425.56" cy="539.64" r="5.5" fill="#ff7f0e"/>
<circle cx="429.84" cy="556.56" r="10.0" fill="#fff"/><circle cx="429.84" cy="556.56" r="5.5" fill="#ff7f0e"/>
<circle cx="434.12" cy="582.33" r="10.0" fill="#fff"/><circle cx="434.12" cy="582.33" r="5.5" fill="#ff7f0e"/>
<circle cx="438.40" cy="597.43" r="10.0" fill="#fff"/><circle cx="438.40" cy="597.43" r="5.5" fill="#ff7f0e"/>
<circle cx="442.68" cy="566.19" r="10.0" fill="#fff"/><circle cx="442.68" cy="566.19" r="5.5" fill="#ff7f0e"/>
<circle cx="446.96" cy="598.47" r="10.0" fill="#fff"/><circle cx="446.96" cy="598.47" r="5.5" fill="#ff7f0e"/>
<circle cx="451.24" cy="581.03" r="10.0" fill="#fff"/><circle cx="451.24" cy="581.03" r="5.5" fill="#ff7f0e"/>
<circle cx="455.52" cy="583.37" r="10.0" fill="#fff"/><circle cx="455.52" cy="583.37" r="5.5" fill="#ff7f0e"/>
<circle cx="459.80" cy="580.51" r="10.0" fill="#fff"/><circle cx="459.80" cy="580.51" r="5.5" fill="#ff7f0e"/>
<circle cx="464.08" cy="589.36" r="10.0" fill="#fff"/><circle cx="464.08" cy="589.36" r="5.5" fill="#ff7f0e"/>
<circle cx="468.36" cy="541.20" r="10.0" fill="#fff"/><circle cx="468.36" cy="541.20" r="5.5" fill="#ff7f0e"/>
<circle cx="472.64" cy="578.43" r="10.0" fill="#fff"/><circle cx="472.64" cy="578.43" r="5.5" fill="#ff7f0e"/>
<circle cx="476.92" cy="600.56" r="10.0" fill="#fff"/><circle cx="476.92" cy="600.56" r="5.5" fill="#ff7f0e"/>
<circle cx="481.20" cy="609.41" r="10.0" fill="#fff"/><circle cx="481.20" cy="609.41" r="5.5" fill="#ff7f0e"/>
<circle cx="485.48" cy="584.41" r="10.0" fill="#fff"/><circle cx="485.48" cy="584.41" r="5.5" fill="#ff7f0e"/>
<circle cx="489.76" cy="632.32" r="10.0" fill="#fff"/><circle cx="489.76" cy="632.32" r="5.5" fill="#ff7f0e"/>
<circle cx="494.04" cy="666.42" r="10.0" fill="#fff"/><circle cx="494.04" cy="666.42" r="5.5" fill="#ff7f0e"/>
<circle cx="498.32" cy="522.46" r="10.0" fill="#fff"/><circle cx="498.32" cy="522.46" r="5.5" fill="#ff7f0e"/>
<circle cx="502.60" cy="533.13" r="10.0" fill="#fff"/><circle cx="502.60" cy="533.13" r="5.5" fill="#ff7f0e"/>
<circle cx="506.88" cy="478.46" r="10.0" fill="#fff"/><circle cx="506.88" cy="478.46" r="5.5" fill="#ff7f0e"/>
<circle cx="511.16" cy="499.29" r="10.0" fill="#fff"/><circle cx="511.16" cy="499.29" r="5.5" fill="#ff7f0e"/>
<circle cx="515.44" cy="564.37" r="10.0" fill="#fff"/><circle cx="515.44" cy="564.37" r="5.5" fill="#ff7f0e"/>
<circle cx="519.72" cy="547.19" r="10.0" fill="#fff"/><circle cx="519.72" cy="547.19" r="5.5" fill="#ff7f0e"/>
<circle cx="524.00" cy="583.37" r="10.0" fill="#fff"/><circle cx="524.00" cy="583.37" r="5.5" fill="#ff7f0e"/>
<circle cx="528.28" cy="588.58" r="10.0" fill="#fff"/><circle cx="528.28" cy="588.58" r="5.5" fill="#ff7f0e"/>
<circle cx="532.56" cy="542.24" r="10.0" fill="#fff"/><circle cx="532.56" cy="542.24" r="5.5" fill="#ff7f0e"/>
<circle cx="536.84" cy="576.87" r="10.0" fill="#fff"/><circle cx="536.84" cy="576.87" r="5.5" fill="#ff7f0e"/>
<circle cx="541.12" cy="573.48" r="10.0" fill="#fff"/><circle cx="541.12" cy="573.48" r="5.5" fill="#ff7f0e"/>
<circle cx="545.40" cy="692.19" r="10.0" fill="#fff"/><circle cx="545.40" cy="692.19" r="5.5" fill="#ff7f0e"/>
<circle cx="549.68" cy="656.79" r="10.0" fill="#fff"/><circle cx="549.68" cy="656.79" r="5.5" fill="#ff7f0e"/>
<circle cx="553.96" cy="648.20" r="10.0" fill="#fff"/><circle cx="553.96" cy="648.20" r="5.5" fill="#ff7f0e"/>
<circle cx="558.24" cy="658.61" r="10.0" fill="#fff"/><circle cx="558.24" cy="658.61" r="5.5" fill="#ff7f0e"/>
<circle cx="562.52" cy="628.41" r="10.0" fill="#fff"/><circle cx="562.52" cy="628.41" r="5.5" fill="#ff7f0e"/>
<circle cx="566.80" cy="602.38" r="10.0" fill="#fff"/><circle cx="566.80" cy="602.38" r="5.5" fill="#ff7f0e"/>
<circle cx="571.08" cy="627.63" r="10.0" fill="#fff"/><circle cx="571.08" cy="627.63" r="5.5" fill="#ff7f0e"/>
<circle cx="575.36" cy="545.62" r="10.0" fill="#fff"/><circle cx="575.36" cy="545.62" r="5.5" fill="#ff7f0e"/>
<circle cx="579.64" cy="506.31" r="10.0" fill="#fff"/><circle cx="579.64" cy="506.31" r="5.5" fill="#ff7f0e"/>
<circle cx="583.92" cy="483.41" r="10.0" fill="#fff"/><circle cx="583.92" cy="483.41" r="5.5" fill="#ff7f0e"/>
<circle cx="588.20" cy="549.53" r="10.0" fill="#fff"/><circle cx="588.20" cy="549.53" r="5.5" fill="#ff7f0e"/>
<circle cx="592.48" cy="622.68" r="10.0" fill="#fff"/><circle cx="592.48" cy="622.68" r="5.5" fill="#ff7f0e"/>
<circle cx="596.76" cy="600.03" r="10.0" fill="#fff"/><circle cx="596.76" cy="600.03" r="5.5" fill="#ff7f0e"/>
<circle cx="601.04" cy="568.27" r="10.0" fill="#fff"/><circle cx="601.04" cy="568.27" r="5.5" fill="#ff7f0e"/>
<circle cx="605.32" cy="613.57" r="10.0" fill="#fff"/><circle cx="605.32" cy="613.57" r="5.5" fill="#ff7f0e"/>
<circle cx="609.60" cy="588.58" r="10.0" fill="#fff"/><circle cx="609.60" cy="588.58" r="5.5" fill="#ff7f0e"/>
<circle cx="613.88" cy="515.43" r="10.0" fill="#fff"/><circle cx="613.88" cy="515.43" r="5.5" fill="#ff7f0e"/>
<circle cx="618.16" cy="531.05" r="10.0" fill="#fff"/><circle cx="618.16" cy="531.05" r="5.5" fill="#ff7f0e"/>
<circle cx="622.44" cy="637.52" r="10.0" fill="#fff"/><circle cx="622.44" cy="637.52" r="5.5" fill="#ff7f0e"/>
<circle cx="626.72" cy="528.70" r="10.0" fill="#fff"/><circle cx="626.72" cy="528.70" r="5.5" fill="#ff7f0e"/>
<circle cx="631.00" cy="520.63" r="10.0" fill="#fff"/><circle cx="631.00" cy="520.63" r="5.5" fill="#ff7f0e"/>
<circle cx="635.28" cy="564.89" r="10.0" fill="#fff"/><circle cx="635.28" cy="564.89" r="5.5" fill="#ff7f0e"/>
<circle cx="639.56" cy="611.23" r="10.0" fill="#fff"/><circle cx="639.56" cy="611.23" r="5.5" fill="#ff7f0e"/>
<circle cx="643.84" cy="581.29" r="10.0" fill="#fff"/><circle cx="643.84" cy="581.29" r="5.5" fill="#ff7f0e"/>
<circle cx="648.12" cy="568.79" r="10.0" fill="#fff"/><circle cx="648.12" cy="568.79" r="5.5" fill="#ff7f0e"/>
<circle cx="652.40" cy="556.04" r="10.0" fill="#fff"/><circle cx="652.40" cy="556.04" r="5.5" fill="#ff7f0e"/>
<circle cx="656.68" cy="606.28" r="10.0" fill="#fff"/><circle cx="656.68" cy="606.28" r="5.5" fill="#ff7f0e"/>
<circle cx="660.96" cy="628.93" r="10.0" fill="#fff"/><circle cx="660.96" cy="628.93" r="5.5" fill="#ff7f0e"/>
<circle cx="665.24" cy="644.03" r="10.0" fill="#fff"/><circle cx="665.24" cy="644.03" r="5.5" fill="#ff7f0e"/>
<circle cx="669.52" cy="639.61" r="10.0" fill="#fff"/><circle cx="669.52" cy="639.61" r="5.5" fill="#ff7f0e"/>
<circle cx="673.80" cy="574.26" r="10.0" fill="#fff"/><circle cx="673.80" cy="574.26" r="5.5" fill="#ff7f0e"/>
<circle cx="678.08" cy="610.19" r="10.0" fill="#fff"/><circle cx="678.08" cy="610.19" r="5.5" fill="#ff7f0e"/>
<circle cx="682.36" cy="539.38" r="10.0" fill="#fff"/><circle cx="682.36" cy="539.38" r="5.5" fill="#ff7f0e"/>
<circle cx="686.64" cy="577.65" r="10.0" fill="#fff"/><circle cx="686.64" cy="577.65" r="5.5" fill="#ff7f0e"/>
<circle cx="690.92" cy="570.88" r="10.0" fill="#fff"/><circle cx="690.92" cy="570.88" r="5.5" fill="#ff7f0e"/>
<circle cx="695.20" cy="656.53" r="10.0" fill="#fff"/><circle cx="695.20" cy="656.53" r="5.5" fill="#ff7f0e"/>
<circle cx="699.48" cy="602.38" r="10.0" fill="#fff"/><circle cx="699.48" cy="602.38" r="5.5" fill="#ff7f0e"/>
<circle cx="703.76" cy="526.62" r="10.0" fill="#fff"/><circle cx="703.76" cy="526.62" r="5.5" fill="#ff7f0e"/>
<circle cx="708.04" cy="584.41" r="10.0" fill="#fff"/><circle cx="708.04" cy="584.41" r="5.5" fill="#ff7f0e"/>
<circle cx="712.32" cy="613.57" r="10.0" fill="#fff"/><circle cx="712.32" cy="613.57" r="5.5" fill="#ff7f0e"/>
<circle cx="716.60" cy="675.27" r="10.0" fill="#fff"/><circle cx="716.60" cy="675.27" r="5.5" fill="#ff7f0e"/>
<circle cx="720.88" cy="592.22" r="10.0" fill="#fff"/><circle cx="720.88" cy="592.22" r="5.5" fill="#ff7f0e"/>
<circle cx="725.16" cy="621.90" r="10.0" fill="#fff"/><circle cx="725.16" cy="621.90" r="5.5" fill="#ff7f0e"/>
<circle cx="729.44" cy="619.56" r="10.0" fill="#fff"/><circle cx="729.44" cy="619.56" r="5.5" fill="#ff7f0e"/>
<circle cx="733.72" cy="617.48" r="10.0" fill="#fff"/><circle cx="733.72" cy="617.48" r="5.5" fill="#ff7f0e"/>
<circle cx="738.00" cy="606.28" r="10.0" fill="#fff"/><circle cx="738.00" cy="606.28" r="5.5" fill="#ff7f0e"/>
<circle cx="742.28" cy="560.46" r="10.0" fill="#fff"/><circle cx="742.28" cy="560.46" r="5.5" fill="#ff7f0e"/>
<circle cx="746.56" cy="455.03" r="10.0" fill="#fff"/><circle cx="746.56" cy="455.03" r="5.5" fill="#ff7f0e"/>
<circle cx="750.84" cy="443.31" r="10.0" fill="#fff"/><circle cx="750.84" cy="443.31" r="5.5" fill="#ff7f0e"/>
<circle cx="755.12" cy="600.29" r="10.0" fill="#fff"/><circle cx="755.12" cy="600.29" r="5.5" fill="#ff7f0e"/>
<circle cx="759.40" cy="570.10" r="10.0" fill="#fff"/><circle cx="759.40" cy="570.10" r="5.5" fill="#ff7f0e"/>
<circle cx="763.68" cy="598.47" r="10.0" fill="#fff"/><circle cx="763.68" cy="598.47" r="5.5" fill="#ff7f0e"/>
<circle cx="767.96" cy="585.20" r="10.0" fill="#fff"/><circle cx="767.96" cy="585.20" r="5.5" fill="#ff7f0e"/>
<circle cx="772.24" cy="607.58" r="10.0" fill="#fff"/><circle cx="772.24" cy="607.58" r="5.5" fill="#ff7f0e"/>
<circle cx="776.52" cy="600.82" r="10.0" fill="#fff"/><circle cx="776.52" cy="600.82" r="5.5" fill="#ff7f0e"/>
<circle cx="780.80" cy="538.34" r="10.0" fill="#fff"/><circle cx="780.80" cy="538.34" r="5.5" fill="#ff7f0e"/>
<circle cx="785.08" cy="573.48" r="10.0" fill="#fff"/><circle cx="785.08" cy="573.48" r="5.5" fill="#ff7f0e"/>
<circle cx="789.36" cy="612.01" r="10.0" fill="#fff"/><circle cx="789.36" cy="612.01" r="5.5" fill="#ff7f0e"/>
<circle cx="793.64" cy="612.01" r="10.0" fill="#fff"/><circle cx="793.64" cy="612.01" r="5.5" fill="#ff7f0e"/>
<circle cx="797.92" cy="582.59" r="10.0" fill="#fff"/><circle cx="797.92" cy="582.59" r="5.5" fill="#ff7f0e"/>
<circle cx="802.20" cy="538.34" r="10.0" fill="#fff"/><circle cx="802.20" cy="538.34" r="5.5" fill="#ff7f0e"/>
<circle cx="806.48" cy="571.40" r="10.0" fill="#fff"/><circle cx="806.48" cy="571.40" r="5.5" fill="#ff7f0e"/>
<circle cx="810.76" cy="633.62" r="10.0" fill="#fff"/><circle cx="810.76" cy="633.62" r="5.5" fill="#ff7f0e"/>
<circle cx="815.04" cy="526.62" r="10.0" fill="#fff"/><circle cx="815.04" cy="526.62" r="5.5" fill="#ff7f0e"/>
<circle cx="819.32" cy="592.22" r="10.0" fill="#fff"/><circle cx="819.32" cy="592.22" r="5.5" fill="#ff7f0e"/>
<circle cx="823.60" cy="575.04" r="10.0" fill="#fff"/><circle cx="823.60" cy="575.04" r="5.5" fill="#ff7f0e"/>
<circle cx="827.88" cy="568.53" r="10.0" fill="#fff"/><circle cx="827.88" cy="568.53" r="5.5" fill="#ff7f0e"/>
<circle cx="832.16" cy="633.62" r="10.0" fill="#fff"/><circle cx="832.16" cy="633.62" r="5.5" fill="#ff7f0e"/>
<circle cx="836.44" cy="600.56" r="10.0" fill="#fff"/><circle cx="836.44" cy="600.56" r="5.5" fill="#ff7f0e"/>
<circle cx="840.72" cy="584.41" r="10.0" fill="#fff"/><circle cx="840.72" cy="584.41" r="5.5" fill="#ff7f0e"/>
<circle cx="845.00" cy="636.48" r="10.0" fill="#fff"/><circle cx="845.00" cy="636.48" r="5.5" fill="#ff7f0e"/>
<circle cx="849.28" cy="621.12" r="10.0" fill="#fff"/><circle cx="849.28" cy="621.12" r="5.5" fill="#ff7f0e"/>
<circle cx="853.56" cy="580.51" r="10.0" fill="#fff"/><circle cx="853.56" cy="580.51" r="5.5" fill="#ff7f0e"/>
<circle cx="857.84" cy="559.42" r="10.0" fill="#fff"/><circle cx="857.84" cy="559.42" r="5.5" fill="#ff7f0e"/>
<circle cx="862.12" cy="603.42" r="10.0" fill="#fff"/><circle cx="862.12" cy="603.42" r="5.5" fill="#ff7f0e"/>
<circle cx="866.40" cy="585.20" r="10.0" fill="#fff"/><circle cx="866.40" cy="585.20" r="5.5" fill="#ff7f0e"/>
<circle cx="870.68" cy="600.03" r="10.0" fill="#fff"/><circle cx="870.68" cy="600.03" r="5.5" fill="#ff7f0e"/>
<circle cx="874.96" cy="607.32" r="10.0" fill="#fff"/><circle cx="874.96" cy="607.32" r="5.5" fill="#ff7f0e"/>
<circle cx="879.24" cy="583.63" r="10.0" fill="#fff"/><circle cx="879.24" cy="583.63" r="5.5" fill="#ff7f0e"/>
<circle cx="883.52" cy="506.31" r="10.0" fill="#fff"/><circle cx="883.52" cy="506.31" r="5.5" fill="#ff7f0e"/>
<circle cx="887.80" cy="586.50" r="10.0" fill="#fff"/><circle cx="887.80" cy="586.50" r="5.5" fill="#ff7f0e"/>
<circle cx="892.08" cy="568.53" r="10.0" fill="#fff"/><circle cx="892.08" cy="568.53" r="5.5" fill="#ff7f0e"/>
<circle cx="896.36" cy="586.50" r="10.0" fill="#fff"/><circle cx="896.36" cy="586.50" r="5.5" fill="#ff7f0e"/>
<circle cx="900.64" cy="547.97" r="10.0" fill="#fff"/><circle cx="900.64" cy="547.97" r="5.5" fill="#ff7f0e"/>
<circle cx="904.92" cy="601.08" r="10.0" fill="#fff"/><circle cx="904.92" cy="601.08" r="5.5" fill="#ff7f0e"/>
<circle cx="909.20" cy="594.57" r="10.0" fill="#fff"/><circle cx="909.20" cy="594.57" r="5.5" fill="#ff7f0e"/>
<circle cx="913.48" cy="580.25" r="10.0" fill="#fff"/><circle cx="913.48" cy="580.25" r="5.5" fill="#ff7f0e"/>
<circle cx="917.76" cy="518.29" r="10.0" fill="#fff"/><circle cx="917.76" cy="518.29" r="5.5" fill="#ff7f0e"/>
<circle cx="922.04" cy="547.45" r="10.0" fill="#fff"/><circle cx="922.04" cy="547.45" r="5.5" fill="#ff7f0e"/>
<circle cx="926.32" cy="494.34" r="10.0" fill="#fff"/><circle cx="926.32" cy="494.34" r="5.5" fill="#ff7f0e"/>
<circle cx="930.60" cy="575.04" r="10.0" fill="#fff"/><circle cx="930.60" cy="575.04" r="5.5" fill="#ff7f0e"/>
<circle cx="934.88" cy="577.13" r="10.0" fill="#fff"/><circle cx="934.88" cy="577.13" r="5.5" fill="#ff7f0e"/>
<circle cx="939.16" cy="646.89" r="10.0" fill="#fff"/><circle cx="939.16" cy="646.89" r="5.5" fill="#ff7f0e"/>
<circle cx="943.44" cy="652.36" r="10.0" fill="#fff"/><circle cx="943.44" cy="652.36" r="5.5" fill="#ff7f0e"/>
<circle cx="947.72" cy="461.54" r="10.0" fill="#fff"/><circle cx="947.72" cy="461.54" r="5.5" fill="#ff7f0e"/>
<circle cx="952.00" cy="461.54" r="10.0" fill="#fff"/><circle cx="952.00" cy="461.54" r="5.5" fill="#ff7f0e"/>
<circle cx="956.28" cy="507.36" r="10.0" fill="#fff"/><circle cx="956.28" cy="507.36" r="5.5" fill="#ff7f0e"/>
<circle cx="960.56" cy="492.26" r="10.0" fill="#fff"/><circle cx="960.56" cy="492.26" r="5.5" fill="#ff7f0e"/>
</g>
<text x="1087.0" y="118.0" font-size="16" text-anchor="end" textLength="117.8" lengthAdjust="spacingAndGlyphs" style="white-space:pre">IP (!TCP  !UDP)</text>
<path d="M1097.3 112.4H1145.7" stroke="#2ca02c" stroke-width="2.0" fill="none"/>
<circle cx="1121.4" cy="112.4" r="9.7" fill="#fff"/><circle cx="1121.4" cy="112.4" r="5.5" fill="#2ca02c"/>
<g>
<polyline fill="none" stroke="#2ca02c" stroke-width="2.0" stroke-linejoin="round" stroke-linecap="butt" points="96.00,838.50 100.28,838.50 104.56,838.50 108.84,838.50 113.12,838.50 117.40,838.50 121.68,838.50 125.96,838.50 130.24,838.50 134.52,838.50 138.80,838.50 143.08,838.50 147.36,838.50 151.64,838.50 155.92,838.50 160.20,838.50 164.48,838.50 168.76,838.50 173.04,838.50 177.32,838.50 181.60,838.50 185.88,838.50 190.16,838.50 194.44,838.50 198.72,838.50 203.00,838.50 207.28,838.50 211.56,838.50 215.84,838.50 220.12,838.50 224.40,838.50 228.68,838.50 232.96,838.50 237.24,838.50 241.52,838.50 245.80,838.50 250.08,838.50 254.36,838.50 258.64,838.50 262.92,838.50 267.20,838.50 271.48,838.50 275.76,838.50 280.04,838.50 284.32,838.50 288.60,838.50 292.88,838.50 297.16,838.50 301.44,838.50 305.72,838.50 310.00,838.50 314.28,838.50 318.56,838.50 322.84,838.50 327.12,838.50 331.40,838.50 335.68,838.50 339.96,838.50 344.24,838.50 348.52,838.50 352.80,838.50 357.08,838.50 361.36,838.50 365.64,838.50 369.92,838.50 374.20,838.50 378.48,838.50 382.76,838.50 387.04,838.50 391.32,838.50 395.60,838.50 399.88,838.50 404.16,838.50 408.44,838.50 412.72,838.50 417.00,838.50 421.28,838.50 425.56,838.50 429.84,838.50 434.12,838.50 438.40,838.50 442.68,838.50 446.96,838.50 451.24,838.50 455.52,838.50 459.80,838.50 464.08,838.50 468.36,838.50 472.64,838.50 476.92,838.50 481.20,838.50 485.48,838.50 489.76,838.50 494.04,838.50 498.32,838.50 502.60,838.50 506.88,838.50 511.16,838.50 515.44,838.50 519.72,838.50 524.00,838.50 528.28,838.50 532.56,838.50 536.84,838.50 541.12,838.50 545.40,838.50 549.68,838.50 553.96,838.50 558.24,838.50 562.52,838.50 566.80,838.50 571.08,838.50 575.36,838.50 579.64,838.50 583.92,838.50 588.20,838.50 592.48,838.50 596.76,838.50 601.04,838.50 605.32,838.50 609.60,838.50 613.88,838.50 618.16,838.50 622.44,838.50 626.72,838.50 631.00,838.50 635.28,838.50 639.56,838.50 643.84,838.50 648.12,838.50 652.40,838.50 656.68,838.50 660.96,838.50 665.24,838.50 669.52,838.50 673.80,838.50 678.08,838.50 682.36,838.50 686.64,838.50 690.92,838.50 695.20,838.50 699.48,838.50 703.76,838.50 708.04,838.50 712.32,838.50 716.60,838.50 720.88,838.50 725.16,838.50 729.44,838.50 733.72,838.50 738.00,838.50 742.28,838.50 746.56,838.50 750.84,838.50 755.12,838.50 759.40,838.50 763.68,838.50 767.96,838.50 772.24,838.50 776.52,838.50 780.80,838.50 785.08,838.50 789.36,838.50 793.64,838.50 797.92,838.50 802.20,838.50 806.48,838.50 810.76,838.50 815.04,838.50 819.32,838.50 823.60,838.50 827.88,838.50 832.16,838.50 836.44,838.50 840.72,838.50 845.00,838.50 849.28,838.50 853.56,838.50 857.84,838.50 862.12,838.50 866.40,838.50 870.68,838.50 874.96,838.50 879.24,838.50 883.52,838.50 887.80,838.50 892.08,838.50 896.36,838.50 900.64,838.50 904.92,838.50 909.20,838.50 913.48,838.50 917.76,838.50 922.04,838.50 926.32,838.50 930.60,838.50 934.88,838.50 939.16,838.50 943.44,838.50 947.72,838.50 952.00,838.50 956.28,838.50 960.56,838.50"/>
<circle cx="96.00" cy="838.50" r="10.0" fill="#fff"/><circle cx="96.00" cy="838.50" r="5.5" fill="#2ca02c"/>
<circle cx="100.28" cy="838.50" r="10.0" fill="#fff"/><circle cx="100.28" cy="838.50" r="5.5" fill="#2ca02c"/>
<circle cx="104.56" cy="838.50" r="10.0" fill="#fff"/><circle cx="104.56" cy="838.50" r="5.5" fill="#2ca02c"/>
<circle cx="108.84" cy="838.50" r="10.0" fill="#fff"/><circle cx="108.84" cy="838.50" r="5.5" fill="#2ca02c"/>
<circle cx="113.12" cy="838.50" r="10.0" fill="#fff"/><circle cx="113.12" cy="838.50" r="5.5" fill="#2ca02c"/>
<circle cx="117.40" cy="838.50" r="10.0" fill="#fff"/><circle cx="117.40" cy="838.50" r="5.5" fill="#2ca02c"/>
<circle cx="121.68" cy="838.50" r="10.0" fill="#fff"/><circle cx="121.68" cy="838.50" r="5.5" fill="#2ca02c"/>
<circle cx="125.96" cy="838.50" r="10.0" fill="#fff"/><circle cx="125.96" cy="838.50" r="5.5" fill="#2ca02c"/>
<circle cx="130.24" cy="838.50" r="10.0" fill="#fff"/><circle cx="130.24" cy="838.50" r="5.5" fill="#2ca02c"/>
<circle cx="134.52" cy="838.50" r="10.0" fill="#fff"/><circle cx="134.52" cy="838.50" r="5.5" fill="#2ca02c"/>
<circle cx="138.80" cy="838.50" r="10.0" fill="#fff"/><circle cx="138.80" cy="838.50" r="5.5" fill="#2ca02c"/>
<circle cx="143.08" cy="838.50" r="10.0" fill="#fff"/><circle cx="143.08" cy="838.50" r="5.5" fill="#2ca02c"/>
<circle cx="147.36" cy="838.50" r="10.0" fill="#fff"/><circle cx="147.36" cy="838.50" r="5.5" fill="#2ca02c"/>
<circle cx="151.64" cy="838.50" r="10.0" fill="#fff"/><circle cx="151.64" cy="838.50" r="5.5" fill="#2ca02c"/>
<circle cx="155.92" cy="838.50" r="10.0" fill="#fff"/><circle cx="155.92" cy="838.50" r="5.5" fill="#2ca02c"/>
<circle cx="160.20" cy="838.50" r="10.0" fill="#fff"/><circle cx="160.20" cy="838.50" r="5.5" fill="#2ca02c"/>
<circle cx="164.48" cy="838.50" r="10.0" fill="#fff"/><circle cx="164.48" cy="838.50" r="5.5" fill="#2ca02c"/>
<circle cx="168.76" cy="838.50" r="10.0" fill="#fff"/><circle cx="168.76" cy="838.50" r="5.5" fill="#2ca02c"/>
<circle cx="173.04" cy="838.50" r="10.0" fill="#fff"/><circle cx="173.04" cy="838.50" r="5.5" fill="#2ca02c"/>
<circle cx="177.32" cy="838.50" r="10.0" fill="#fff"/><circle cx="177.32" cy="838.50" r="5.5" fill="#2ca02c"/>
<circle cx="181.60" cy="838.50" r="10.0" fill="#fff"/><circle cx="181.60" cy="838.50" r="5.5" fill="#2ca02c"/>
<circle cx="185.88" cy="838.50" r="10.0" fill="#fff"/><circle cx="185.88" cy="838.50" r="5.5" fill="#2ca02c"/>
<circle cx="190.16" cy="838.50" r="10.0" fill="#fff"/><circle cx="190.16" cy="838.50" r="5.5" fill="#2ca02c"/>
<circle cx="194.44" cy="838.50" r="10.0" fill="#fff"/><circle cx="194.44" cy="838.50" r="5.5" fill="#2ca02c"/>
<circle cx="198.72" cy="838.50" r="10.0" fill="#fff"/><circle cx="198.72" cy="838.50" r="5.5" fill="#2ca02c"/>
<circle cx="203.00" cy="838.50" r="10.0" fill="#fff"/><circle cx="203.00" cy="838.50" r="5.5" fill="#2ca02c"/>
<circle cx="207.28" cy="838.50" r="10.0" fill="#fff"/><circle cx="207.28" cy="838.50" r="5.5" fill="#2ca02c"/>
<circle cx="211.56" cy="838.50" r="10.0" fill="#fff"/><circle cx="211.56" cy="838.50" r="5.5" fill="#2ca02c"/>
<circle cx="215.84" cy="838.50" r="10.0" fill="#fff"/><circle cx="215.84" cy="838.50" r="5.5" fill="#2ca02c"/>
<circle cx="220.12" cy="838.50" r="10.0" fill="#fff"/><circle cx="220.12" cy="838.50" r="5.5" fill="#2ca02c"/>
<circle cx="224.40" cy="838.50" r="10.0" fill="#fff"/><circle cx="224.40" cy="838.50" r="5.5" fill="#2ca02c"/>
<circle cx="228.68" cy="838.50" r="10.0" fill="#fff"/><circle cx="228.68" cy="838.50" r="5.5" fill="#2ca02c"/>
<circle cx="232.96" cy="838.50" r="10.0" fill="#fff"/><circle cx="232.96" cy="838.50" r="5.5" fill="#2ca02c"/>
<circle cx="237.24" cy="838.50" r="10.0" fill="#fff"/><circle cx="237.24" cy="838.50" r="5.5" fill="#2ca02c"/>
<circle cx="241.52" cy="838.50" r="10.0" fill="#fff"/><circle cx="241.52" cy="838.50" r="5.5" fill="#2ca02c"/>
<circle cx="245.80" cy="838.50" r="10.0" fill="#fff"/><circle cx="245.80" cy="838.50" r="5.5" fill="#2ca02c"/>
<circle cx="250.08" cy="838.50" r="10.0" fill="#fff"/><circle cx="250.08" cy="838.50" r="5.5" fill="#2ca02c"/>
<circle cx="254.36" cy="838.50" r="10.0" fill="#fff"/><circle cx="254.36" cy="838.50" r="5.5" fill="#2ca02c"/>
<circle cx="258.64" cy="838.50" r="10.0" fill="#fff"/><circle cx="258.64" cy="838.50" r="5.5" fill="#2ca02c"/>
<circle cx="262.92" cy="838.50" r="10.0" fill="#fff"/><circle cx="262.92" cy="838.50" r="5.5" fill="#2ca02c"/>
<circle cx="267.20" cy="838.50" r="10.0" fill="#fff"/><circle cx="267.20" cy="838.50" r="5.5" fill="#2ca02c"/>
<circle cx="271.48" cy="838.50" r="10.0" fill="#fff"/><circle cx="271.48" cy="838.50" r="5.5" fill="#2ca02c"/>
<circle cx="275.76" cy="838.50" r="10.0" fill="#fff"/><circle cx="275.76" cy="838.50" r="5.5" fill="#2ca02c"/>
<circle cx="280.04" cy="838.50" r="10.0" fill="#fff"/><circle cx="280.04" cy="838.50" r="5.5" fill="#2ca02c"/>
<circle cx="284.32" cy="838.50" r="10.0" fill="#fff"/><circle cx="284.32" cy="838.50" r="5.5" fill="#2ca02c"/>
<circle cx="288.60" cy="838.50" r="10.0" fill="#fff"/><circle cx="288.60" cy="838.50" r="5.5" fill="#2ca02c"/>
<circle cx="292.88" cy="838.50" r="10.0" fill="#fff"/><circle cx="292.88" cy="838.50" r="5.5" fill="#2ca02c"/>
<circle cx="297.16" cy="838.50" r="10.0" fill="#fff"/><circle cx="297.16" cy="838.50" r="5.5" fill="#2ca02c"/>
<circle cx="301.44" cy="838.50" r="10.0" fill="#fff"/><circle cx="301.44" cy="838.50" r="5.5" fill="#2ca02c"/>
<circle cx="305.72" cy="838.50" r="10.0" fill="#fff"/><circle cx="305.72" cy="838.50" r="5.5" fill="#2ca02c"/>
<circle cx="310.00" cy="838.50" r="10.0" fill="#fff"/><circle cx="310.00" cy="838.50" r="5.5" fill="#2ca02c"/>
<circle cx="314.28" cy="838.50" r="10.0" fill="#fff"/><circle cx="314.28" cy="838.50" r="5.5" fill="#2ca02c"/>
<circle cx="318.56" cy="838.50" r="10.0" fill="#fff"/><circle cx="318.56" cy="838.50" r="5.5" fill="#2ca02c"/>
<circle cx="322.84" cy="838.50" r="10.0" fill="#fff"/><circle cx="322.84" cy="838.50" r="5.5" fill="#2ca02c"/>
<circle cx="327.12" cy="838.50" r="10.0" fill="#fff"/><circle cx="327.12" cy="838.50" r="5.5" fill="#2ca02c"/>
<circle cx="331.40" cy="838.50" r="10.0" fill="#fff"/><circle cx="331.40" cy="838.50" r="5.5" fill="#2ca02c"/>
<circle cx="335.68" cy="838.50" r="10.0" fill="#fff"/><circle cx="335.68" cy="838.50" r="5.5" fill="#2ca02c"/>
<circle cx="339.96" cy="838.50" r="10.0" fill="#fff"/><circle cx="339.96" cy="838.50" r="5.5" fill="#2ca02c"/>
<circle cx="344.24" cy="838.50" r="10.0" fill="#fff"/><circle cx="344.24" cy="838.50" r="5.5" fill="#2ca02c"/>
<circle cx="348.52" cy="838.50" r="10.0" fill="#fff"/><circle cx="348.52" cy="838.50" r="5.5" fill="#2ca02c"/>
<circle cx="352.80" cy="838.50" r="10.0" fill="#fff"/><circle cx="352.80" cy="838.50" r="5.5" fill="#2ca02c"/>
<circle cx="357.08" cy="838.50" r="10.0" fill="#fff"/><circle cx="357.08" cy="838.50" r="5.5" fill="#2ca02c"/>
<circle cx="361.36" cy="838.50" r="10.0" fill="#fff"/><circle cx="361.36" cy="838.50" r="5.5" fill="#2ca02c"/>
<circle cx="365.64" cy="838.50" r="10.0" fill="#fff"/><circle cx="365.64" cy="838.50" r="5.5" fill="#2ca02c"/>
<circle cx="369.92" cy="838.50" r="10.0" fill="#fff"/><circle cx="369.92" cy="838.50" r="5.5" fill="#2ca02c"/>
<circle cx="374.20" cy="838.50" r="10.0" fill="#fff"/><circle cx="374.20" cy="838.50" r="5.5" fill="#2ca02c"/>
<circle cx="378.48" cy="838.50" r="10.0" fill="#fff"/><circle cx="378.48" cy="838.50" r="5.5" fill="#2ca02c"/>
<circle cx="382.76" cy="838.50" r="10.0" fill="#fff"/><circle cx="382.76" cy="838.50" r="5.5" fill="#2ca02c"/>
<circle cx="387.04" cy="838.50" r="10.0" fill="#fff"/><circle cx="387.04" cy="838.50" r="5.5" fill="#2ca02c"/>
<circle cx="391.32" cy="838.50" r="10.0" fill="#fff"/><circle cx="391.32" cy="838.50" r="5.5" fill="#2ca02c"/>
<circle cx="395.60" cy="838.50" r="10.0" fill="#fff"/><circle cx="395.60" cy="838.50" r="5.5" fill="#2ca02c"/>
<circle cx="399.88" cy="838.50" r="10.0" fill="#fff"/><circle cx="399.88" cy="838.50" r="5.5" fill="#2ca02c"/>
<circle cx="404.16" cy="838.50" r="10.0" fill="#fff"/><circle cx="404.16" cy="838.50" r="5.5" fill="#2ca02c"/>
<circle cx="408.44" cy="838.50" r="10.0" fill="#fff"/><circle cx="408.44" cy="838.50" r="5.5" fill="#2ca02c"/>
<circle cx="412.72" cy="838.50" r="10.0" fill="#fff"/><circle cx="412.72" cy="838.50" r="5.5" fill="#2ca02c"/>
<circle cx="417.00" cy="838.50" r="10.0" fill="#fff"/><circle cx="417.00" cy="838.50" r="5.5" fill="#2ca02c"/>
<circle cx="421.28" cy="838.50" r="10.0" fill="#fff"/><circle cx="421.28" cy="838.50" r="5.5" fill="#2ca02c"/>
<circle cx="425.56" cy="838.50" r="10.0" fill="#fff"/><circle cx="425.56" cy="838.50" r="5.5" fill="#2ca02c"/>
<circle cx="429.84" cy="838.50" r="10.0" fill="#fff"/><circle cx="429.84" cy="838.50" r="5.5" fill="#2ca02c"/>
<circle cx="434.12" cy="838.50" r="10.0" fill="#fff"/><circle cx="434.12" cy="838.50" r="5.5" fill="#2ca02c"/>
<circle cx="438.40" cy="838.50" r="10.0" fill="#fff"/><circle cx="438.40" cy="838.50" r="5.5" fill="#2ca02c"/>
<circle cx="442.68" cy="838.50" r="10.0" fill="#fff"/><circle cx="442.68" cy="838.50" r="5.5" fill="#2ca02c"/>
<circle cx="446.96" cy="838.50" r="10.0" fill="#fff"/><circle cx="446.96" cy="838.50" r="5.5" fill="#2ca02c"/>
<circle cx="451.24" cy="838.50" r="10.0" fill="#fff"/><circle cx="451.24" cy="838.50" r="5.5" fill="#2ca02c"/>
<circle cx="455.52" cy="838.50" r="10.0" fill="#fff"/><circle cx="455.52" cy="838.50" r="5.5" fill="#2ca02c"/>
<circle cx="459.80" cy="838.50" r="10.0" fill="#fff"/><circle cx="459.80" cy="838.50" r="5.5" fill="#2ca02c"/>
<circle cx="464.08" cy="838.50" r="10.0" fill="#fff"/><circle cx="464.08" cy="838.50" r="5.5" fill="#2ca02c"/>
<circle cx="468.36" cy="838.50" r="10.0" fill="#fff"/><circle cx="468.36" cy="838.50" r="5.5" fill="#2ca02c"/>
<circle cx="472.64" cy="838.50" r="10.0" fill="#fff"/><circle cx="472.64" cy="838.50" r="5.5" fill="#2ca02c"/>
<circle cx="476.92" cy="838.50" r="10.0" fill="#fff"/><circle cx="476.92" cy="838.50" r="5.5" fill="#2ca02c"/>
<circle cx="481.20" cy="838.50" r="10.0" fill="#fff"/><circle cx="481.20" cy="838.50" r="5.5" fill="#2ca02c"/>
<circle cx="485.48" cy="838.50" r="10.0" fill="#fff"/><circle cx="485.48" cy="838.50" r="5.5" fill="#2ca02c"/>
<circle cx="489.76" cy="838.50" r="10.0" fill="#fff"/><circle cx="489.76" cy="838.50" r="5.5" fill="#2ca02c"/>
<circle cx="494.04" cy="838.50" r="10.0" fill="#fff"/><circle cx="494.04" cy="838.50" r="5.5" fill="#2ca02c"/>
<circle cx="498.32" cy="838.50" r="10.0" fill="#fff"/><circle cx="498.32" cy="838.50" r="5.5" fill="#2ca02c"/>
<circle cx="502.60" cy="838.50" r="10.0" fill="#fff"/><circle cx="502.60" cy="838.50" r="5.5" fill="#2ca02c"/>
<circle cx="506.88" cy="838.50" r="10.0" fill="#fff"/><circle cx="506.88" cy="838.50" r="5.5" fill="#2ca02c"/>
<circle cx="511.16" cy="838.50" r="10.0" fill="#fff"/><circle cx="511.16" cy="838.50" r="5.5" fill="#2ca02c"/>
<circle cx="515.44" cy="838.50" r="10.0" fill="#fff"/><circle cx="515.44" cy="838.50" r="5.5" fill="#2ca02c"/>
<circle cx="519.72" cy="838.50" r="10.0" fill="#fff"/><circle cx="519.72" cy="838.50" r="5.5" fill="#2ca02c"/>
<circle cx="524.00" cy="838.50" r="10.0" fill="#fff"/><circle cx="524.00" cy="838.50" r="5.5" fill="#2ca02c"/>
<circle cx="528.28" cy="838.50" r="10.0" fill="#fff"/><circle cx="528.28" cy="838.50" r="5.5" fill="#2ca02c"/>
<circle cx="532.56" cy="838.50" r="10.0" fill="#fff"/><circle cx="532.56" cy="838.50" r="5.5" fill="#2ca02c"/>
<circle cx="536.84" cy="838.50" r="10.0" fill="#fff"/><circle cx="536.84" cy="838.50" r="5.5" fill="#2ca02c"/>
<circle cx="541.12" cy="838.50" r="10.0" fill="#fff"/><circle cx="541.12" cy="838.50" r="5.5" fill="#2ca02c"/>
<circle cx="545.40" cy="838.50" r="10.0" fill="#fff"/><circle cx="545.40" cy="838.50" r="5.5" fill="#2ca02c"/>
<circle cx="549.68" cy="838.50" r="10.0" fill="#fff"/><circle cx="549.68" cy="838.50" r="5.5" fill="#2ca02c"/>
<circle cx="553.96" cy="838.50" r="10.0" fill="#fff"/><circle cx="553.96" cy="838.50" r="5.5" fill="#2ca02c"/>
<circle cx="558.24" cy="838.50" r="10.0" fill="#fff"/><circle cx="558.24" cy="838.50" r="5.5" fill="#2ca02c"/>
<circle cx="562.52" cy="838.50" r="10.0" fill="#fff"/><circle cx="562.52" cy="838.50" r="5.5" fill="#2ca02c"/>
<circle cx="566.80" cy="838.50" r="10.0" fill="#fff"/><circle cx="566.80" cy="838.50" r="5.5" fill="#2ca02c"/>
<circle cx="571.08" cy="838.50" r="10.0" fill="#fff"/><circle cx="571.08" cy="838.50" r="5.5" fill="#2ca02c"/>
<circle cx="575.36" cy="838.50" r="10.0" fill="#fff"/><circle cx="575.36" cy="838.50" r="5.5" fill="#2ca02c"/>
<circle cx="579.64" cy="838.50" r="10.0" fill="#fff"/><circle cx="579.64" cy="838.50" r="5.5" fill="#2ca02c"/>
<circle cx="583.92" cy="838.50" r="10.0" fill="#fff"/><circle cx="583.92" cy="838.50" r="5.5" fill="#2ca02c"/>
<circle cx="588.20" cy="838.50" r="10.0" fill="#fff"/><circle cx="588.20" cy="838.50" r="5.5" fill="#2ca02c"/>
<circle cx="592.48" cy="838.50" r="10.0" fill="#fff"/><circle cx="592.48" cy="838.50" r="5.5" fill="#2ca02c"/>
<circle cx="596.76" cy="838.50" r="10.0" fill="#fff"/><circle cx="596.76" cy="838.50" r="5.5" fill="#2ca02c"/>
<circle cx="601.04" cy="838.50" r="10.0" fill="#fff"/><circle cx="601.04" cy="838.50" r="5.5" fill="#2ca02c"/>
<circle cx="605.32" cy="838.50" r="10.0" fill="#fff"/><circle cx="605.32" cy="838.50" r="5.5" fill="#2ca02c"/>
<circle cx="609.60" cy="838.50" r="10.0" fill="#fff"/><circle cx="609.60" cy="838.50" r="5.5" fill="#2ca02c"/>
<circle cx="613.88" cy="838.50" r="10.0" fill="#fff"/><circle cx="613.88" cy="838.50" r="5.5" fill="#2ca02c"/>
<circle cx="618.16" cy="838.50" r="10.0" fill="#fff"/><circle cx="618.16" cy="838.50" r="5.5" fill="#2ca02c"/>
<circle cx="622.44" cy="838.50" r="10.0" fill="#fff"/><circle cx="622.44" cy="838.50" r="5.5" fill="#2ca02c"/>
<circle cx="626.72" cy="838.50" r="10.0" fill="#fff"/><circle cx="626.72" cy="838.50" r="5.5" fill="#2ca02c"/>
<circle cx="631.00" cy="838.50" r="10.0" fill="#fff"/><circle cx="631.00" cy="838.50" r="5.5" fill="#2ca02c"/>
<circle cx="635.28" cy="838.50" r="10.0" fill="#fff"/><circle cx="635.28" cy="838.50" r="5.5" fill="#2ca02c"/>
<circle cx="639.56" cy="838.50" r="10.0" fill="#fff"/><circle cx="639.56" cy="838.50" r="5.5" fill="#2ca02c"/>
<circle cx="643.84" cy="838.50" r="10.0" fill="#fff"/><circle cx="643.84" cy="838.50" r="5.5" fill="#2ca02c"/>
<circle cx="648.12" cy="838.50" r="10.0" fill="#fff"/><circle cx="648.12" cy="838.50" r="5.5" fill="#2ca02c"/>
<circle cx="652.40" cy="838.50" r="10.0" fill="#fff"/><circle cx="652.40" cy="838.50" r="5.5" fill="#2ca02c"/>
<circle cx="656.68" cy="838.50" r="10.0" fill="#fff"/><circle cx="656.68" cy="838.50" r="5.5" fill="#2ca02c"/>
<circle cx="660.96" cy="838.50" r="10.0" fill="#fff"/><circle cx="660.96" cy="838.50" r="5.5" fill="#2ca02c"/>
<circle cx="665.24" cy="838.50" r="10.0" fill="#fff"/><circle cx="665.24" cy="838.50" r="5.5" fill="#2ca02c"/>
<circle cx="669.52" cy="838.50" r="10.0" fill="#fff"/><circle cx="669.52" cy="838.50" r="5.5" fill="#2ca02c"/>
<circle cx="673.80" cy="838.50" r="10.0" fill="#fff"/><circle cx="673.80" cy="838.50" r="5.5" fill="#2ca02c"/>
<circle cx="678.08" cy="838.50" r="10.0" fill="#fff"/><circle cx="678.08" cy="838.50" r="5.5" fill="#2ca02c"/>
<circle cx="682.36" cy="838.50" r="10.0" fill="#fff"/><circle cx="682.36" cy="838.50" r="5.5" fill="#2ca02c"/>
<circle cx="686.64" cy="838.50" r="10.0" fill="#fff"/><circle cx="686.64" cy="838.50" r="5.5" fill="#2ca02c"/>
<circle cx="690.92" cy="838.50" r="10.0" fill="#fff"/><circle cx="690.92" cy="838.50" r="5.5" fill="#2ca02c"/>
<circle cx="695.20" cy="838.50" r="10.0" fill="#fff"/><circle cx="695.20" cy="838.50" r="5.5" fill="#2ca02c"/>
<circle cx="699.48" cy="838.50" r="10.0" fill="#fff"/><circle cx="699.48" cy="838.50" r="5.5" fill="#2ca02c"/>
<circle cx="703.76" cy="838.50" r="10.0" fill="#fff"/><circle cx="703.76" cy="838.50" r="5.5" fill="#2ca02c"/>
<circle cx="708.04" cy="838.50" r="10.0" fill="#fff"/><circle cx="708.04" cy="838.50" r="5.5" fill="#2ca02c"/>
<circle cx="712.32" cy="838.50" r="10.0" fill="#fff"/><circle cx="712.32" cy="838.50" r="5.5" fill="#2ca02c"/>
<circle cx="716.60" cy="838.50" r="10.0" fill="#fff"/><circle cx="716.60" cy="838.50" r="5.5" fill="#2ca02c"/>
<circle cx="720.88" cy="838.50" r="10.0" fill="#fff"/><circle cx="720.88" cy="838.50" r="5.5" fill="#2ca02c"/>
<circle cx="725.16" cy="838.50" r="10.0" fill="#fff"/><circle cx="725.16" cy="838.50" r="5.5" fill="#2ca02c"/>
<circle cx="729.44" cy="838.50" r="10.0" fill="#fff"/><circle cx="729.44" cy="838.50" r="5.5" fill="#2ca02c"/>
<circle cx="733.72" cy="838.50" r="10.0" fill="#fff"/><circle cx="733.72" cy="838.50" r="5.5" fill="#2ca02c"/>
<circle cx="738.00" cy="838.50" r="10.0" fill="#fff"/><circle cx="738.00" cy="838.50" r="5.5" fill="#2ca02c"/>
<circle cx="742.28" cy="838.50" r="10.0" fill="#fff"/><circle cx="742.28" cy="838.50" r="5.5" fill="#2ca02c"/>
<circle cx="746.56" cy="838.50" r="10.0" fill="#fff"/><circle cx="746.56" cy="838.50" r="5.5" fill="#2ca02c"/>
<circle cx="750.84" cy="838.50" r="10.0" fill="#fff"/><circle cx="750.84" cy="838.50" r="5.5" fill="#2ca02c"/>
<circle cx="755.12" cy="838.50" r="10.0" fill="#fff"/><circle cx="755.12" cy="838.50" r="5.5" fill="#2ca02c"/>
<circle cx="759.40" cy="838.50" r="10.0" fill="#fff"/><circle cx="759.40" cy="838.50" r="5.5" fill="#2ca02c"/>
<circle cx="763.68" cy="838.50" r="10.0" fill="#fff"/><circle cx="763.68" cy="838.50" r="5.5" fill="#2ca02c"/>
<circle cx="767.96" cy="838.50" r="10.0" fill="#fff"/><circle cx="767.96" cy="838.50" r="5.5" fill="#2ca02c"/>
<circle cx="772.24" cy="838.50" r="10.0" fill="#fff"/><circle cx="772.24" cy="838.50" r="5.5" fill="#2ca02c"/>
<circle cx="776.52" cy="838.50" r="10.0" fill="#fff"/><circle cx="776.52" cy="838.50" r="5.5" fill="#2ca02c"/>
<circle cx="780.80" cy="838.50" r="10.0" fill="#fff"/><circle cx="780.80" cy="838.50" r="5.5" fill="#2ca02c"/>
<circle cx="785.08" cy="838.50" r="10.0" fill="#fff"/><circle cx="785.08" cy="838.50" r="5.5" fill="#2ca02c"/>
<circle cx="789.36" cy="838.50" r="10.0" fill="#fff"/><circle cx="789.36" cy="838.50" r="5.5" fill="#2ca02c"/>
<circle cx="793.64" cy="838.50" r="10.0" fill="#fff"/><circle cx="793.64" cy="838.50" r="5.5" fill="#2ca02c"/>
<circle cx="797.92" cy="838.50" r="10.0" fill="#fff"/><circle cx="797.92" cy="838.50" r="5.5" fill="#2ca02c"/>
<circle cx="802.20" cy="838.50" r="10.0" fill="#fff"/><circle cx="802.20" cy="838.50" r="5.5" fill="#2ca02c"/>
<circle cx="806.48" cy="838.50" r="10.0" fill="#fff"/><circle cx="806.48" cy="838.50" r="5.5" fill="#2ca02c"/>
<circle cx="810.76" cy="838.50" r="10.0" fill="#fff"/><circle cx="810.76" cy="838.50" r="5.5" fill="#2ca02c"/>
<circle cx="815.04" cy="838.50" r="10.0" fill="#fff"/><circle cx="815.04" cy="838.50" r="5.5" fill="#2ca02c"/>
<circle cx="819.32" cy="838.50" r="10.0" fill="#fff"/><circle cx="819.32" cy="838.50" r="5.5" fill="#2ca02c"/>
<circle cx="823.60" cy="838.50" r="10.0" fill="#fff"/><circle cx="823.60" cy="838.50" r="5.5" fill="#2ca02c"/>
<circle cx="827.88" cy="838.50" r="10.0" fill="#fff"/><circle cx="827.88" cy="838.50" r="5.5" fill="#2ca02c"/>
<circle cx="832.16" cy="838.50" r="10.0" fill="#fff"/><circle cx="832.16" cy="838.50" r="5.5" fill="#2ca02c"/>
<circle cx="836.44" cy="838.50" r="10.0" fill="#fff"/><circle cx="836.44" cy="838.50" r="5.5" fill="#2ca02c"/>
<circle cx="840.72" cy="838.50" r="10.0" fill="#fff"/><circle cx="840.72" cy="838.50" r="5.5" fill="#2ca02c"/>
<circle cx="845.00" cy="838.50" r="10.0" fill="#fff"/><circle cx="845.00" cy="838.50" r="5.5" fill="#2ca02c"/>
<circle cx="849.28" cy="838.50" r="10.0" fill="#fff"/><circle cx="849.28" cy="838.50" r="5.5" fill="#2ca02c"/>
<circle cx="853.56" cy="838.50" r="10.0" fill="#fff"/><circle cx="853.56" cy="838.50" r="5.5" fill="#2ca02c"/>
<circle cx="857.84" cy="838.50" r="10.0" fill="#fff"/><circle cx="857.84" cy="838.50" r="5.5" fill="#2ca02c"/>
<circle cx="862.12" cy="838.50" r="10.0" fill="#fff"/><circle cx="862.12" cy="838.50" r="5.5" fill="#2ca02c"/>
<circle cx="866.40" cy="838.50" r="10.0" fill="#fff"/><circle cx="866.40" cy="838.50" r="5.5" fill="#2ca02c"/>
<circle cx="870.68" cy="838.50" r="10.0" fill="#fff"/><circle cx="870.68" cy="838.50" r="5.5" fill="#2ca02c"/>
<circle cx="874.96" cy="838.50" r="10.0" fill="#fff"/><circle cx="874.96" cy="838.50" r="5.5" fill="#2ca02c"/>
<circle cx="879.24" cy="838.50" r="10.0" fill="#fff"/><circle cx="879.24" cy="838.50" r="5.5" fill="#2ca02c"/>
<circle cx="883.52" cy="838.50" r="10.0" fill="#fff"/><circle cx="883.52" cy="838.50" r="5.5" fill="#2ca02c"/>
<circle cx="887.80" cy="838.50" r="10.0" fill="#fff"/><circle cx="887.80" cy="838.50" r="5.5" fill="#2ca02c"/>
<circle cx="892.08" cy="838.50" r="10.0" fill="#fff"/><circle cx="892.08" cy="838.50" r="5.5" fill="#2ca02c"/>
<circle cx="896.36" cy="838.50" r="10.0" fill="#fff"/><circle cx="896.36" cy="838.50" r="5.5" fill="#2ca02c"/>
<circle cx="900.64" cy="838.50" r="10.0" fill="#fff"/><circle cx="900.64" cy="838.50" r="5.5" fill="#2ca02c"/>
<circle cx="904.92" cy="838.50" r="10.0" fill="#fff"/><circle cx="904.92" cy="838.50" r="5.5" fill="#2ca02c"/>
<circle cx="909.20" cy="838.50" r="10.0" fill="#fff"/><circle cx="909.20" cy="838.50" r="5.5" fill="#2ca02c"/>
<circle cx="913.48" cy="838.50" r="10.0" fill="#fff"/><circle cx="913.48" cy="838.50" r="5.5" fill="#2ca02c"/>
<circle cx="917.76" cy="838.50" r="10.0" fill="#fff"/><circle cx="917.76" cy="838.50" r="5.5" fill="#2ca02c"/>
<circle cx="922.04" cy="838.50" r="10.0" fill="#fff"/><circle cx="922.04" cy="838.50" r="5.5" fill="#2ca02c"/>
<circle cx="926.32" cy="838.50" r="10.0" fill="#fff"/><circle cx="926.32" cy="838.50" r="5.5" fill="#2ca02c"/>
<circle cx="930.60" cy="838.50" r="10.0" fill="#fff"/><circle cx="930.60" cy="838.50" r="5.5" fill="#2ca02c"/>
<circle cx="934.88" cy="838.50" r="10.0" fill="#fff"/><circle cx="934.88" cy="838.50" r="5.5" fill="#2ca02c"/>
<circle cx="939.16" cy="838.50" r="10.0" fill="#fff"/><circle cx="939.16" cy="838.50" r="5.5" fill="#2ca02c"/>
<circle cx="943.44" cy="838.50" r="10.0" fill="#fff"/><circle cx="943.44" cy="838.50" r="5.5" fill="#2ca02c"/>
<circle cx="947.72" cy="838.50" r="10.0" fill="#fff"/><circle cx="947.72" cy="838.50" r="5.5" fill="#2ca02c"/>
<circle cx="952.00" cy="838.50" r="10.0" fill="#fff"/><circle cx="952.00" cy="838.50" r="5.5" fill="#2ca02c"/>
<circle cx="956.28" cy="838.50" r="10.0" fill="#fff"/><circle cx="956.28" cy="838.50" r="5.5" fill="#2ca02c"/>
<circle cx="960.56" cy="838.50" r="10.0" fill="#fff"/><circle cx="960.56" cy="838.50" r="5.5" fill="#2ca02c"/>
</g>
<path d="M92.06 834.95A5.3 5.3 0 0 0 92.06 842.05" stroke="#2ca02c" stroke-opacity="0.4" stroke-width="0.8" fill="none"/>
<path d="M104.90 834.95A5.3 5.3 0 0 0 104.90 842.05" stroke="#2ca02c" stroke-opacity="0.4" stroke-width="0.8" fill="none"/>
<path d="M122.02 834.95A5.3 5.3 0 0 0 122.02 842.05" stroke="#2ca02c" stroke-opacity="0.4" stroke-width="0.8" fill="none"/>
<path d="M134.86 834.95A5.3 5.3 0 0 0 134.86 842.05" stroke="#2ca02c" stroke-opacity="0.4" stroke-width="0.8" fill="none"/>
<path d="M151.98 834.95A5.3 5.3 0 0 0 151.98 842.05" stroke="#2ca02c" stroke-opacity="0.4" stroke-width="0.8" fill="none"/>
<path d="M169.10 834.95A5.3 5.3 0 0 0 169.10 842.05" stroke="#2ca02c" stroke-opacity="0.4" stroke-width="0.8" fill="none"/>
<path d="M181.94 834.95A5.3 5.3 0 0 0 181.94 842.05" stroke="#2ca02c" stroke-opacity="0.4" stroke-width="0.8" fill="none"/>
<path d="M199.06 834.95A5.3 5.3 0 0 0 199.06 842.05" stroke="#2ca02c" stroke-opacity="0.4" stroke-width="0.8" fill="none"/>
<path d="M211.90 834.95A5.3 5.3 0 0 0 211.90 842.05" stroke="#2ca02c" stroke-opacity="0.4" stroke-width="0.8" fill="none"/>
<path d="M229.02 834.95A5.3 5.3 0 0 0 229.02 842.05" stroke="#2ca02c" stroke-opacity="0.4" stroke-width="0.8" fill="none"/>
<path d="M241.86 834.95A5.3 5.3 0 0 0 241.86 842.05" stroke="#2ca02c" stroke-opacity="0.4" stroke-width="0.8" fill="none"/>
<path d="M258.98 834.95A5.3 5.3 0 0 0 258.98 842.05" stroke="#2ca02c" stroke-opacity="0.4" stroke-width="0.8" fill="none"/>
<path d="M276.10 834.95A5.3 5.3 0 0 0 276.10 842.05" stroke="#2ca02c" stroke-opacity="0.4" stroke-width="0.8" fill="none"/>
<path d="M288.94 834.95A5.3 5.3 0 0 0 288.94 842.05" stroke="#2ca02c" stroke-opacity="0.4" stroke-width="0.8" fill="none"/>
<path d="M306.06 834.95A5.3 5.3 0 0 0 306.06 842.05" stroke="#2ca02c" stroke-opacity="0.4" stroke-width="0.8" fill="none"/>
<path d="M318.90 834.95A5.3 5.3 0 0 0 318.90 842.05" stroke="#2ca02c" stroke-opacity="0.4" stroke-width="0.8" fill="none"/>
<path d="M336.02 834.95A5.3 5.3 0 0 0 336.02 842.05" stroke="#2ca02c" stroke-opacity="0.4" stroke-width="0.8" fill="none"/>
<path d="M348.86 834.95A5.3 5.3 0 0 0 348.86 842.05" stroke="#2ca02c" stroke-opacity="0.4" stroke-width="0.8" fill="none"/>
<path d="M365.98 834.95A5.3 5.3 0 0 0 365.98 842.05" stroke="#2ca02c" stroke-opacity="0.4" stroke-width="0.8" fill="none"/>
<path d="M383.10 834.95A5.3 5.3 0 0 0 383.10 842.05" stroke="#2ca02c" stroke-opacity="0.4" stroke-width="0.8" fill="none"/>
<path d="M395.94 834.95A5.3 5.3 0 0 0 395.94 842.05" stroke="#2ca02c" stroke-opacity="0.4" stroke-width="0.8" fill="none"/>
<path d="M413.06 834.95A5.3 5.3 0 0 0 413.06 842.05" stroke="#2ca02c" stroke-opacity="0.4" stroke-width="0.8" fill="none"/>
<path d="M425.90 834.95A5.3 5.3 0 0 0 425.90 842.05" stroke="#2ca02c" stroke-opacity="0.4" stroke-width="0.8" fill="none"/>
<path d="M443.02 834.95A5.3 5.3 0 0 0 443.02 842.05" stroke="#2ca02c" stroke-opacity="0.4" stroke-width="0.8" fill="none"/>
<path d="M455.86 834.95A5.3 5.3 0 0 0 455.86 842.05" stroke="#2ca02c" stroke-opacity="0.4" stroke-width="0.8" fill="none"/>
<path d="M472.98 834.95A5.3 5.3 0 0 0 472.98 842.05" stroke="#2ca02c" stroke-opacity="0.4" stroke-width="0.8" fill="none"/>
<path d="M490.10 834.95A5.3 5.3 0 0 0 490.10 842.05" stroke="#2ca02c" stroke-opacity="0.4" stroke-width="0.8" fill="none"/>
<path d="M502.94 834.95A5.3 5.3 0 0 0 502.94 842.05" stroke="#2ca02c" stroke-opacity="0.4" stroke-width="0.8" fill="none"/>
<path d="M520.06 834.95A5.3 5.3 0 0 0 520.06 842.05" stroke="#2ca02c" stroke-opacity="0.4" stroke-width="0.8" fill="none"/>
<path d="M532.90 834.95A5.3 5.3 0 0 0 532.90 842.05" stroke="#2ca02c" stroke-opacity="0.4" stroke-width="0.8" fill="none"/>
<path d="M550.02 834.95A5.3 5.3 0 0 0 550.02 842.05" stroke="#2ca02c" stroke-opacity="0.4" stroke-width="0.8" fill="none"/>
<path d="M562.86 834.95A5.3 5.3 0 0 0 562.86 842.05" stroke="#2ca02c" stroke-opacity="0.4" stroke-width="0.8" fill="none"/>
<path d="M579.98 834.95A5.3 5.3 0 0 0 579.98 842.05" stroke="#2ca02c" stroke-opacity="0.4" stroke-width="0.8" fill="none"/>
<path d="M597.10 834.95A5.3 5.3 0 0 0 597.10 842.05" stroke="#2ca02c" stroke-opacity="0.4" stroke-width="0.8" fill="none"/>
<path d="M609.94 834.95A5.3 5.3 0 0 0 609.94 842.05" stroke="#2ca02c" stroke-opacity="0.4" stroke-width="0.8" fill="none"/>
<path d="M627.06 834.95A5.3 5.3 0 0 0 627.06 842.05" stroke="#2ca02c" stroke-opacity="0.4" stroke-width="0.8" fill="none"/>
<path d="M639.90 834.95A5.3 5.3 0 0 0 639.90 842.05" stroke="#2ca02c" stroke-opacity="0.4" stroke-width="0.8" fill="none"/>
<path d="M657.02 834.95A5.3 5.3 0 0 0 657.02 842.05" stroke="#2ca02c" stroke-opacity="0.4" stroke-width="0.8" fill="none"/>
<path d="M669.86 834.95A5.3 5.3 0 0 0 669.86 842.05" stroke="#2ca02c" stroke-opacity="0.4" stroke-width="0.8" fill="none"/>
<path d="M686.98 834.95A5.3 5.3 0 0 0 686.98 842.05" stroke="#2ca02c" stroke-opacity="0.4" stroke-width="0.8" fill="none"/>
<path d="M704.10 834.95A5.3 5.3 0 0 0 704.10 842.05" stroke="#2ca02c" stroke-opacity="0.4" stroke-width="0.8" fill="none"/>
<path d="M716.94 834.95A5.3 5.3 0 0 0 716.94 842.05" stroke="#2ca02c" stroke-opacity="0.4" stroke-width="0.8" fill="none"/>
<path d="M734.06 834.95A5.3 5.3 0 0 0 734.06 842.05" stroke="#2ca02c" stroke-opacity="0.4" stroke-width="0.8" fill="none"/>
<path d="M746.90 834.95A5.3 5.3 0 0 0 746.90 842.05" stroke="#2ca02c" stroke-opacity="0.4" stroke-width="0.8" fill="none"/>
<path d="M764.02 834.95A5.3 5.3 0 0 0 764.02 842.05" stroke="#2ca02c" stroke-opacity="0.4" stroke-width="0.8" fill="none"/>
<path d="M776.86 834.95A5.3 5.3 0 0 0 776.86 842.05" stroke="#2ca02c" stroke-opacity="0.4" stroke-width="0.8" fill="none"/>
<path d="M793.98 834.95A5.3 5.3 0 0 0 793.98 842.05" stroke="#2ca02c" stroke-opacity="0.4" stroke-width="0.8" fill="none"/>
<path d="M811.10 834.95A5.3 5.3 0 0 0 811.10 842.05" stroke="#2ca02c" stroke-opacity="0.4" stroke-width="0.8" fill="none"/>
<path d="M823.94 834.95A5.3 5.3 0 0 0 823.94 842.05" stroke="#2ca02c" stroke-opacity="0.4" stroke-width="0.8" fill="none"/>
<path d="M841.06 834.95A5.3 5.3 0 0 0 841.06 842.05" stroke="#2ca02c" stroke-opacity="0.4" stroke-width="0.8" fill="none"/>
<path d="M853.90 834.95A5.3 5.3 0 0 0 853.90 842.05" stroke="#2ca02c" stroke-opacity="0.4" stroke-width="0.8" fill="none"/>
<path d="M871.02 834.95A5.3 5.3 0 0 0 871.02 842.05" stroke="#2ca02c" stroke-opacity="0.4" stroke-width="0.8" fill="none"/>
<path d="M883.86 834.95A5.3 5.3 0 0 0 883.86 842.05" stroke="#2ca02c" stroke-opacity="0.4" stroke-width="0.8" fill="none"/>
<path d="M900.98 834.95A5.3 5.3 0 0 0 900.98 842.05" stroke="#2ca02c" stroke-opacity="0.4" stroke-width="0.8" fill="none"/>
<path d="M918.10 834.95A5.3 5.3 0 0 0 918.10 842.05" stroke="#2ca02c" stroke-opacity="0.4" stroke-width="0.8" fill="none"/>
<path d="M930.94 834.95A5.3 5.3 0 0 0 930.94 842.05" stroke="#2ca02c" stroke-opacity="0.4" stroke-width="0.8" fill="none"/>
<path d="M948.06 834.95A5.3 5.3 0 0 0 948.06 842.05" stroke="#2ca02c" stroke-opacity="0.4" stroke-width="0.8" fill="none"/>
<path d="M95.5 57.0V838.5H1166.0" stroke="#000" stroke-width="1" fill="none"/>
<text x="86.2" y="844.2" font-size="16" text-anchor="end" textLength="10.2" lengthAdjust="spacingAndGlyphs">0</text>
<text x="86.2" y="714.2" font-size="16" text-anchor="end" textLength="30.5" lengthAdjust="spacingAndGlyphs">500</text>
<text x="86.2" y="584.2" font-size="16" text-anchor="end" textLength="40.7" lengthAdjust="spacingAndGlyphs">1000</text>
<text x="86.2" y="454.2" font-size="16" text-anchor="end" textLength="40.7" lengthAdjust="spacingAndGlyphs">1500</text>
<text x="86.2" y="323.2" font-size="16" text-anchor="end" textLength="40.7" lengthAdjust="spacingAndGlyphs">2000</text>
<text x="86.2" y="193.2" font-size="16" text-anchor="end" textLength="40.7" lengthAdjust="spacingAndGlyphs">2500</text>
<text x="86.2" y="63.2" font-size="16" text-anchor="end" textLength="40.7" lengthAdjust="spacingAndGlyphs">3000</text>
<text x="98.2" y="864.5" font-size="16" text-anchor="middle" textLength="10.2" lengthAdjust="spacingAndGlyphs">0</text>
<text x="312.2" y="864.5" font-size="16" text-anchor="middle" textLength="20.4" lengthAdjust="spacingAndGlyphs">50</text>
<text x="526.2" y="864.5" font-size="16" text-anchor="middle" textLength="30.5" lengthAdjust="spacingAndGlyphs">100</text>
<text x="740.2" y="864.5" font-size="16" text-anchor="middle" textLength="30.5" lengthAdjust="spacingAndGlyphs">150</text>
<text x="954.2" y="864.5" font-size="16" text-anchor="middle" textLength="30.5" lengthAdjust="spacingAndGlyphs">200</text>
<text x="1168.2" y="864.5" font-size="16" text-anchor="middle" textLength="30.5" lengthAdjust="spacingAndGlyphs">250</text>
<text x="630.8" y="891.5" font-size="16" text-anchor="middle" textLength="64.1" lengthAdjust="spacingAndGlyphs">Time (s)</text>
<text transform="translate(24.3,448) rotate(-90)" font-size="16" text-anchor="middle" textLength="61.2" lengthAdjust="spacingAndGlyphs">Packets</text>
<text x="0.60" y="34.7" font-size="16.0" textLength="6.27" lengthAdjust="spacingAndGlyphs">t</text>
<text x="6.87" y="34.7" font-size="16.0" textLength="5.39" lengthAdjust="spacingAndGlyphs">/</text>
<text x="12.76" y="34.7" font-size="16.0" textLength="40.16" lengthAdjust="spacingAndGlyphs">stor0</text>
<text x="53.42" y="34.7" font-size="16.0" textLength="5.39" lengthAdjust="spacingAndGlyphs">/</text>
<text x="59.31" y="34.7" font-size="16.0" textLength="87.61" lengthAdjust="spacingAndGlyphs">searchlight</text>
<text x="147.42" y="34.7" font-size="16.0" textLength="5.39" lengthAdjust="spacingAndGlyphs">/</text>
<text x="153.31" y="34.7" font-size="16.0" textLength="52.80" lengthAdjust="spacingAndGlyphs">corpus</text>
<text x="206.61" y="34.7" font-size="16.0" textLength="5.39" lengthAdjust="spacingAndGlyphs">/</text>
<text x="212.50" y="34.7" font-size="16.0" textLength="79.16" lengthAdjust="spacingAndGlyphs">wireguard</text>
<text x="292.15" y="34.7" font-size="16.0" textLength="5.39" lengthAdjust="spacingAndGlyphs">/</text>
<text x="298.05" y="34.7" font-size="16.0" textLength="90.90" lengthAdjust="spacingAndGlyphs">experiment</text>
<text x="389.44" y="39.4" font-size="12.8" textLength="8.14" lengthAdjust="spacingAndGlyphs">3</text>
<text x="397.59" y="34.7" font-size="16.0" textLength="5.39" lengthAdjust="spacingAndGlyphs">/</text>
<text x="403.48" y="34.7" font-size="16.0" textLength="35.44" lengthAdjust="spacingAndGlyphs">eth1</text>
<text x="439.42" y="39.4" font-size="12.8" textLength="3.56" lengthAdjust="spacingAndGlyphs">i</text>
<text x="443.47" y="34.7" font-size="16.0" textLength="65.91" lengthAdjust="spacingAndGlyphs">nterface</text>
<text x="509.89" y="34.7" font-size="16.0" textLength="5.39" lengthAdjust="spacingAndGlyphs">/</text>
<text x="515.78" y="34.7" font-size="16.0" textLength="25.59" lengthAdjust="spacingAndGlyphs">ptp</text>
<text x="541.86" y="34.7" font-size="16.0" textLength="5.39" lengthAdjust="spacingAndGlyphs">/</text>
<text x="547.75" y="34.7" font-size="16.0" textLength="28.19" lengthAdjust="spacingAndGlyphs">exp</text>
<text x="576.44" y="34.7" font-size="16.0" textLength="5.77" lengthAdjust="spacingAndGlyphs">-</text>
<text x="582.21" y="34.7" font-size="16.0" textLength="10.16" lengthAdjust="spacingAndGlyphs">b</text>
<text x="592.37" y="34.7" font-size="16.0" textLength="5.77" lengthAdjust="spacingAndGlyphs">-</text>
<text x="598.64" y="34.7" font-size="16.0" textLength="29.54" lengthAdjust="spacingAndGlyphs">720</text>
<text x="628.68" y="34.7" font-size="16.0" textLength="5.77" lengthAdjust="spacingAndGlyphs">-</text>
<text x="634.96" y="34.7" font-size="16.0" textLength="21.92" lengthAdjust="spacingAndGlyphs">hls</text>
<text x="657.38" y="34.7" font-size="16.0" textLength="5.77" lengthAdjust="spacingAndGlyphs">-</text>
<text x="663.65" y="34.7" font-size="16.0" textLength="42.02" lengthAdjust="spacingAndGlyphs">http2</text>
<text x="706.17" y="34.7" font-size="16.0" textLength="5.39" lengthAdjust="spacingAndGlyphs">/</text>
<text x="712.07" y="34.7" font-size="16.0" textLength="100.80" lengthAdjust="spacingAndGlyphs">1646908587</text>
<text x="813.36" y="34.7" font-size="16.0" textLength="5.77" lengthAdjust="spacingAndGlyphs">-</text>
<text x="819.64" y="34.7" font-size="16.0" textLength="17.98" lengthAdjust="spacingAndGlyphs">c0</text>
<text x="838.11" y="34.7" font-size="16.0" textLength="5.09" lengthAdjust="spacingAndGlyphs">.</text>
<text x="843.70" y="34.7" font-size="16.0" textLength="86.32" lengthAdjust="spacingAndGlyphs">c5s3wgptp</text>
<text x="930.52" y="34.7" font-size="16.0" textLength="5.09" lengthAdjust="spacingAndGlyphs">.</text>
<text x="936.10" y="34.7" font-size="16.0" textLength="55.18" lengthAdjust="spacingAndGlyphs">hdumb</text>
<text x="991.78" y="34.7" font-size="16.0" textLength="5.09" lengthAdjust="spacingAndGlyphs">.</text>
<text x="997.37" y="34.7" font-size="16.0" textLength="53.45" lengthAdjust="spacingAndGlyphs">pharos</text>
<text x="1051.32" y="34.7" font-size="16.0" textLength="5.77" lengthAdjust="spacingAndGlyphs">-</text>
<text x="1057.60" y="34.7" font-size="16.0" textLength="28.19" lengthAdjust="spacingAndGlyphs">exp</text>
<text x="1086.28" y="34.7" font-size="16.0" textLength="5.77" lengthAdjust="spacingAndGlyphs">-</text>
<text x="1092.06" y="34.7" font-size="16.0" textLength="10.16" lengthAdjust="spacingAndGlyphs">b</text>
<text x="1102.21" y="34.7" font-size="16.0" textLength="5.77" lengthAdjust="spacingAndGlyphs">-</text>
<text x="1108.49" y="34.7" font-size="16.0" textLength="29.54" lengthAdjust="spacingAndGlyphs">720</text>
<text x="1138.53" y="34.7" font-size="16.0" textLength="5.77" lengthAdjust="spacingAndGlyphs">-</text>
<text x="1144.80" y="34.7" font-size="16.0" textLength="21.92" lengthAdjust="spacingAndGlyphs">hls</text>
<text x="1167.22" y="34.7" font-size="16.0" textLength="5.77" lengthAdjust="spacingAndGlyphs">-</text>
<text x="1173.50" y="34.7" font-size="16.0" textLength="21.69" lengthAdjust="spacingAndGlyphs">htt</text>
</svg></body></html>
